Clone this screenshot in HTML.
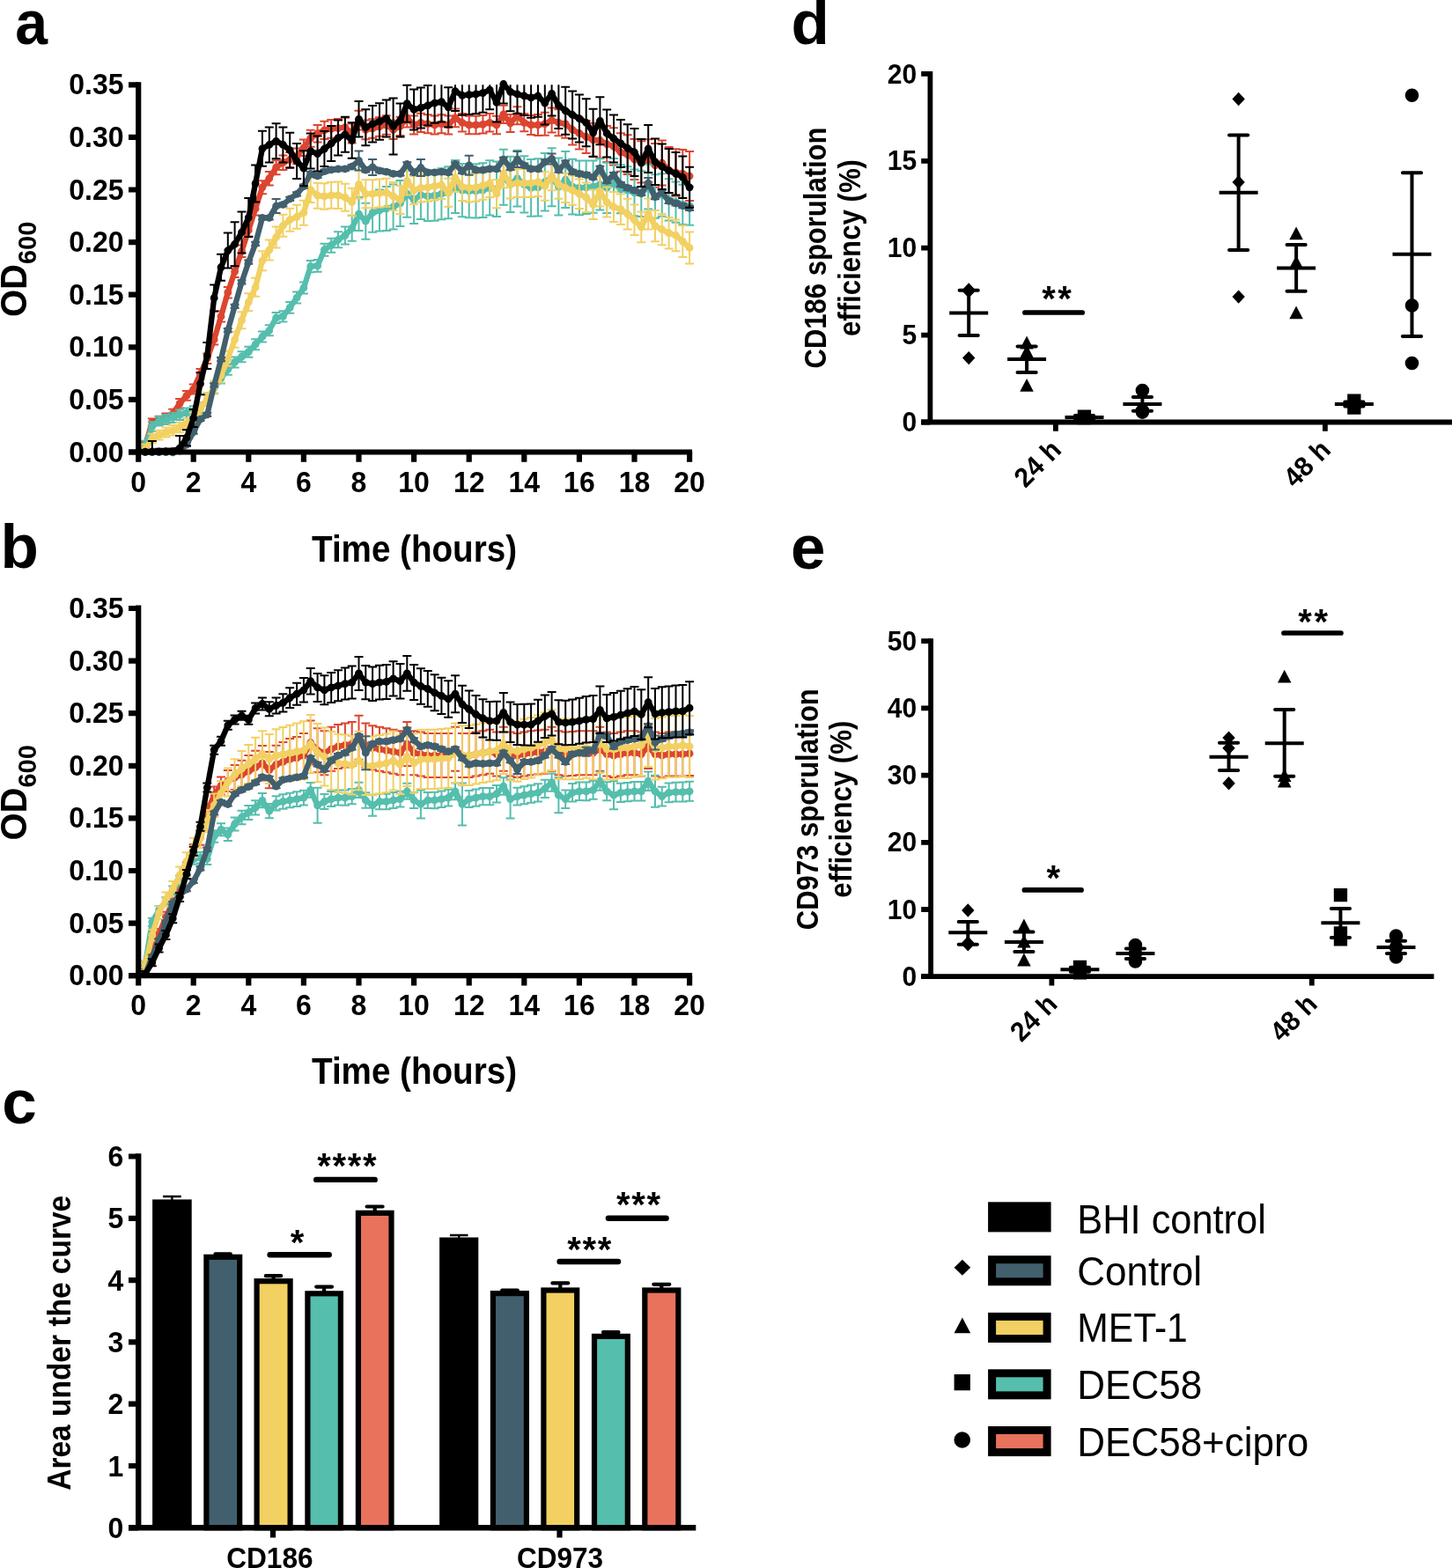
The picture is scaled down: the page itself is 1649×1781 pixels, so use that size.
<!DOCTYPE html><html><head><meta charset="utf-8"><title>Figure</title><style>html,body{margin:0;padding:0;background:#fff;}svg{display:block;}text{font-family:'Liberation Sans', Arial, Helvetica, sans-serif;}</style></head><body>
<svg width="1649" height="1781" viewBox="0 0 1649 1781">
<rect width="1649" height="1781" fill="#fff"/>
<text x="17.3" y="49.8" font-size="71" font-weight="bold" textLength="36.8" lengthAdjust="spacingAndGlyphs">a</text>
<text x="0.5" y="645.3" font-size="71" font-weight="bold">b</text>
<text x="2.3" y="1275.8" font-size="71" font-weight="bold">c</text>
<text x="898.5" y="50" font-size="71" font-weight="bold">d</text>
<text x="898" y="645.5" font-size="71" font-weight="bold">e</text>
<path d="M164.9 502.1V509.1M159.9 502.1h10M159.9 509.1h10M172.8 475.6V483.6M167.8 475.6h10M167.8 483.6h10M180.6 472.7V481.7M175.6 472.7h10M175.6 481.7h10M188.4 469.5V479.5M183.4 469.5h10M183.4 479.5h10M196.2 464.7V474.9M191.2 464.7h10M191.2 474.9h10M204.1 453.1V463.6M199.1 453.1h10M199.1 463.6h10M211.9 444.1V454.8M206.9 444.1h10M206.9 454.8h10M219.7 436.6V447.6M214.7 436.6h10M214.7 447.6h10M227.5 418.9V430.2M222.5 418.9h10M222.5 430.2h10M235.3 401.5V413M230.3 401.5h10M230.3 413h10M243.2 379.9V391.6M238.2 379.9h10M238.2 391.6h10M251 353.4V365.4M246 353.4h10M246 365.4h10M258.8 326V338.5M253.8 326h10M253.8 338.5h10M266.6 302V315M261.6 302h10M261.6 315h10M274.5 278.5V292M269.5 278.5h10M269.5 292h10M282.3 254.4V268.4M277.3 254.4h10M277.3 268.4h10M290.1 229.9V244.4M285.1 229.9h10M285.1 244.4h10M297.9 205.3V220.3M292.9 205.3h10M292.9 220.3h10M305.8 194.9V210.4M300.8 194.9h10M300.8 210.4h10M313.6 182.2V198.2M308.6 182.2h10M308.6 198.2h10M321.4 176.4V193M316.4 176.4h10M316.4 193h10M329.2 172.9V190.1M324.2 172.9h10M324.2 190.1h10M337.1 168.5V186.3M332.1 168.5h10M332.1 186.3h10M344.9 158.6V177M339.9 158.6h10M339.9 177h10M352.7 147.7V166.7M347.7 147.7h10M347.7 166.7h10M360.6 141.9V161.5M355.6 141.9h10M355.6 161.5h10M368.4 137.8V158M363.4 137.8h10M363.4 158h10M376.2 136V156.8M371.2 136h10M371.2 156.8h10M384 134.9V156.3M379 134.9h10M379 156.3h10M391.9 133.7V155.7M386.9 133.7h10M386.9 155.7h10M399.7 140.4V162.4M394.7 140.4h10M394.7 162.4h10M407.5 125.7V147.5M402.5 125.7h10M402.5 147.5h10M415.3 136.5V158.3M410.3 136.5h10M410.3 158.3h10M423.1 135.2V156.8M418.1 135.2h10M418.1 156.8h10M431 133.2V154.8M426 133.2h10M426 154.8h10M438.8 131.2V152.8M433.8 131.2h10M433.8 152.8h10M446.6 136.7V158.1M441.6 136.7h10M441.6 158.1h10M454.5 132.7V154.1M449.5 132.7h10M449.5 154.1h10M462.3 123.2V144.6M457.3 123.2h10M457.3 144.6h10M470.1 131.4V152.6M465.1 131.4h10M465.1 152.6h10M477.9 128.7V149.9M472.9 128.7h10M472.9 149.9h10M485.8 130.2V151.2M480.8 130.2h10M480.8 151.2h10M493.6 131.5V152.5M488.6 131.5h10M488.6 152.5h10M501.4 130.2V151.2M496.4 130.2h10M496.4 151.2h10M509.2 131.6V152.4M504.2 131.6h10M504.2 152.4h10M517 123.5V144.3M512 123.5h10M512 144.3h10M524.9 129V149.6M519.9 129h10M519.9 149.6h10M532.7 131.7V152.3M527.7 131.7h10M527.7 152.3h10M540.5 131.7V152.3M535.5 131.7h10M535.5 152.3h10M548.4 131.1V151.5M543.4 131.1h10M543.4 151.5h10M556.2 129.1V149.5M551.2 129.1h10M551.2 149.5h10M564 131.8V152.2M559 131.8h10M559 152.2h10M571.8 119.8V140M566.8 119.8h10M566.8 140h10M579.6 129.9V150.1M574.6 129.9h10M574.6 150.1h10M587.5 121.2V141.2M582.5 121.2h10M582.5 141.2h10M595.3 129.3V149.3M590.3 129.3h10M590.3 149.3h10M603.1 131V153M598.1 131h10M598.1 153h10M611 130V154M606 130h10M606 154h10M618.8 127.7V153.7M613.8 127.7h10M613.8 153.7h10M626.6 122.6V150.6M621.6 122.6h10M621.6 150.6h10M634.4 124.3V154.3M629.4 124.3h10M629.4 154.3h10M642.2 124.7V156.7M637.2 124.7h10M637.2 156.7h10M650.1 130.4V164.4M645.1 130.4h10M645.1 164.4h10M657.9 133.4V169.4M652.9 133.4h10M652.9 169.4h10M665.7 136.9V174.1M660.7 136.9h10M660.7 174.1h10M673.6 139.7V178.2M668.6 139.7h10M668.6 178.2h10M681.4 139.6V179.4M676.4 139.6h10M676.4 179.4h10M689.2 143.1V184.1M684.2 143.1h10M684.2 184.1h10M697 145.2V187.4M692 145.2h10M692 187.4h10M704.9 151.2V194.8M699.9 151.2h10M699.9 194.8h10M712.7 153.3V198.1M707.7 153.3h10M707.7 198.1h10M720.5 158.1V204.1M715.5 158.1h10M715.5 204.1h10M728.3 160.2V207.4M723.3 160.2h10M723.3 207.4h10M736.2 158.2V206.7M731.2 158.2h10M731.2 206.7h10M744 162.9V212.7M739 162.9h10M739 212.7h10M751.8 159.6V210.6M746.8 159.6h10M746.8 210.6h10M759.6 167.1V219.3M754.6 167.1h10M754.6 219.3h10M767.5 169.2V222.7M762.5 169.2h10M762.5 222.7h10M775.3 169.9V224.7M770.3 169.9h10M770.3 224.7h10M783.1 172V228M778.1 172h10M778.1 228h10" stroke="#dc4530" stroke-width="2.0" fill="none"/>
<polyline points="164.9,505.6 172.8,479.6 180.6,477.2 188.4,474.5 196.2,469.8 204.1,458.3 211.9,449.4 219.7,442.1 227.5,424.6 235.3,407.2 243.2,385.7 251,359.4 258.8,332.2 266.6,308.5 274.5,285.3 282.3,261.4 290.1,237.1 297.9,212.8 305.8,202.7 313.6,190.2 321.4,184.7 329.2,181.5 337.1,177.4 344.9,167.8 352.7,157.2 360.6,151.7 368.4,147.9 376.2,146.4 384,145.6 391.9,144.7 399.7,151.4 407.5,136.6 415.3,147.4 423.1,146 431,144 438.8,142 446.6,147.4 454.5,143.4 462.3,133.9 470.1,142 477.9,139.3 485.8,140.7 493.6,142 501.4,140.7 509.2,142 517,133.9 524.9,139.3 532.7,142 540.5,142 548.4,141.3 556.2,139.3 564,142 571.8,129.9 579.6,140 587.5,131.2 595.3,139.3 603.1,142 611,142 618.8,140.7 626.6,136.6 634.4,139.3 642.2,140.7 650.1,147.4 657.9,151.4 665.7,155.5 673.6,158.9 681.4,159.5 689.2,163.6 697,166.3 704.9,173 712.7,175.7 720.5,181.1 728.3,183.8 736.2,182.4 744,187.8 751.8,185.1 759.6,193.2 767.5,195.9 775.3,197.3 783.1,200" stroke="#dc4530" stroke-width="6.3" fill="none" stroke-linejoin="round"/>
<path d="M164.9 505.6h0M172.8 479.6h0M180.6 477.2h0M188.4 474.5h0M196.2 469.8h0M204.1 458.3h0M211.9 449.4h0M219.7 442.1h0M227.5 424.6h0M235.3 407.2h0M243.2 385.7h0M251 359.4h0M258.8 332.2h0M266.6 308.5h0M274.5 285.3h0M282.3 261.4h0M290.1 237.1h0M297.9 212.8h0M305.8 202.7h0M313.6 190.2h0M321.4 184.7h0M329.2 181.5h0M337.1 177.4h0M344.9 167.8h0M352.7 157.2h0M360.6 151.7h0M368.4 147.9h0M376.2 146.4h0M384 145.6h0M391.9 144.7h0M399.7 151.4h0M407.5 136.6h0M415.3 147.4h0M423.1 146h0M431 144h0M438.8 142h0M446.6 147.4h0M454.5 143.4h0M462.3 133.9h0M470.1 142h0M477.9 139.3h0M485.8 140.7h0M493.6 142h0M501.4 140.7h0M509.2 142h0M517 133.9h0M524.9 139.3h0M532.7 142h0M540.5 142h0M548.4 141.3h0M556.2 139.3h0M564 142h0M571.8 129.9h0M579.6 140h0M587.5 131.2h0M595.3 139.3h0M603.1 142h0M611 142h0M618.8 140.7h0M626.6 136.6h0M634.4 139.3h0M642.2 140.7h0M650.1 147.4h0M657.9 151.4h0M665.7 155.5h0M673.6 158.9h0M681.4 159.5h0M689.2 163.6h0M697 166.3h0M704.9 173h0M712.7 175.7h0M720.5 181.1h0M728.3 183.8h0M736.2 182.4h0M744 187.8h0M751.8 185.1h0M759.6 193.2h0M767.5 195.9h0M775.3 197.3h0M783.1 200h0" stroke="#dc4530" stroke-width="8.8" stroke-linecap="round" fill="none"/>
<path d="M164.9 500.7V510.9M159.9 500.7h10M159.9 510.9h10M172.8 479.2V489.7M167.8 479.2h10M167.8 489.7h10M180.6 472.9V483.6M175.6 472.9h10M175.6 483.6h10M188.4 471V482M183.4 471h10M183.4 482h10M196.2 468.7V479.9M191.2 468.7h10M191.2 479.9h10M204.1 465.4V476.9M199.1 465.4h10M199.1 476.9h10M211.9 463.4V475.1M206.9 463.4h10M206.9 475.1h10M219.7 461.3V473.3M214.7 461.3h10M214.7 473.3h10M227.5 457.3V469.3M222.5 457.3h10M222.5 469.3h10M235.3 448.4V460.4M230.3 448.4h10M230.3 460.4h10M243.2 434.8V446.8M238.2 434.8h10M238.2 446.8h10M251 423.6V435.6M246 423.6h10M246 435.6h10M258.8 413.7V425.7M253.8 413.7h10M253.8 425.7h10M266.6 405.4V417.4M261.6 405.4h10M261.6 417.4h10M274.5 399.2V411.2M269.5 399.2h10M269.5 411.2h10M282.3 393.7V405.7M277.3 393.7h10M277.3 405.7h10M290.1 385.2V397.2M285.1 385.2h10M285.1 397.2h10M297.9 376.5V388.5M292.9 376.5h10M292.9 388.5h10M305.8 369.3V381.3M300.8 369.3h10M300.8 381.3h10M313.6 355V367M308.6 355h10M308.6 367h10M321.4 353.3V365.6M316.4 353.3h10M316.4 365.6h10M329.2 343.1V355.7M324.2 343.1h10M324.2 355.7h10M337.1 331.6V344.5M332.1 331.6h10M332.1 344.5h10M344.9 320.5V333.6M339.9 320.5h10M339.9 333.6h10M352.7 295.9V309.3M347.7 295.9h10M347.7 309.3h10M360.6 295.1V308.8M355.6 295.1h10M355.6 308.8h10M368.4 276.7V290.7M363.4 276.7h10M363.4 290.7h10M376.2 270.7V286.7M371.2 270.7h10M371.2 286.7h10M384 263.3V281.3M379 263.3h10M379 281.3h10M391.9 257.4V277.4M386.9 257.4h10M386.9 277.4h10M399.7 244.8V273.8M394.7 244.8h10M394.7 273.8h10M407.5 224.1V262.1M402.5 224.1h10M402.5 262.1h10M415.3 230.7V271.7M410.3 230.7h10M410.3 271.7h10M423.1 219.7V263.7M418.1 219.7h10M418.1 263.7h10M431 215.5V262.5M426 215.5h10M426 262.5h10M438.8 212V262M433.8 212h10M433.8 262h10M446.6 209.5V260.5M441.6 209.5h10M441.6 260.5h10M454.5 205V257M449.5 205h10M449.5 257h10M462.3 193.7V246.7M457.3 193.7h10M457.3 246.7h10M470.1 199.9V253.9M465.1 199.9h10M465.1 253.9h10M477.9 194V249M472.9 194h10M472.9 249h10M485.8 194.9V250.9M480.8 194.9h10M480.8 250.9h10M493.6 193.7V250.7M488.6 193.7h10M488.6 250.7h10M501.4 191.2V249.2M496.4 191.2h10M496.4 249.2h10M509.2 189.3V248.3M504.2 189.3h10M504.2 248.3h10M517 182.1V242.1M512 182.1h10M512 242.1h10M524.9 185.9V246.3M519.9 185.9h10M519.9 246.3h10M532.7 186.4V247.2M527.7 186.4h10M527.7 247.2h10M540.5 186.2V247.4M535.5 186.2h10M535.5 247.4h10M548.4 185.2V247M543.4 185.2h10M543.4 247h10M556.2 182.3V244.5M551.2 182.3h10M551.2 244.5h10M564 183.5V246.1M559 183.5h10M559 246.1h10M571.8 169.8V232.8M566.8 169.8h10M566.8 232.8h10M579.6 177.7V241.1M574.6 177.7h10M574.6 241.1h10M587.5 170.8V234.6M582.5 170.8h10M582.5 234.6h10M595.3 177.3V241.5M590.3 177.3h10M590.3 241.5h10M603.1 181V245.8M598.1 181h10M598.1 245.8h10M611 180.2V245.4M606 180.2h10M606 245.4h10M618.8 173.9V239.5M613.8 173.9h10M613.8 239.5h10M626.6 168.3V234.3M621.6 168.3h10M621.6 234.3h10M634.4 179.6V244.6M629.4 179.6h10M629.4 244.6h10M642.2 172.1V235.9M637.2 172.1h10M637.2 235.9h10M650.1 180.8V243.4M645.1 180.8h10M645.1 243.4h10M657.9 182.6V244.2M652.9 182.6h10M652.9 244.2h10M665.7 182.6V243.1M660.7 182.6h10M660.7 243.1h10M673.6 182.4V241.8M668.6 182.4h10M668.6 241.8h10M681.4 180.2V238.6M676.4 180.2h10M676.4 238.6h10M689.2 184.8V242M684.2 184.8h10M684.2 242h10M697 179.9V236.1M692 179.9h10M692 236.1h10M704.9 187.3V242.3M699.9 187.3h10M699.9 242.3h10M712.7 189.2V243M707.7 189.2h10M707.7 243h10M720.5 192.4V245.2M715.5 192.4h10M715.5 245.2h10M728.3 194.3V246M723.3 194.3h10M723.3 246h10M736.2 186.8V237.4M731.2 186.8h10M731.2 237.4h10M744 198.2V247.7M739 198.2h10M739 247.7h10M751.8 197.3V245.7M746.8 197.3h10M746.8 245.7h10M759.6 203.2V250.6M754.6 203.2h10M754.6 250.6h10M767.5 206.5V252.7M762.5 206.5h10M762.5 252.7h10M775.3 209.8V254.9M770.3 209.8h10M770.3 254.9h10M783.1 211.7V255.7M778.1 211.7h10M778.1 255.7h10" stroke="#55bead" stroke-width="2.0" fill="none"/>
<polyline points="164.9,505.8 172.8,484.4 180.6,478.3 188.4,476.5 196.2,474.3 204.1,471.1 211.9,469.2 219.7,467.3 227.5,463.3 235.3,454.4 243.2,440.8 251,429.6 258.8,419.7 266.6,411.4 274.5,405.2 282.3,399.7 290.1,391.2 297.9,382.5 305.8,375.3 313.6,361 321.4,359.4 329.2,349.4 337.1,338.1 344.9,327 352.7,302.6 360.6,301.9 368.4,283.7 376.2,278.7 384,272.3 391.9,267.4 399.7,259.3 407.5,243.1 415.3,251.2 423.1,241.7 431,239 438.8,237 446.6,235 454.5,231 462.3,220.2 470.1,226.9 477.9,221.5 485.8,222.9 493.6,222.2 501.4,220.2 509.2,218.8 517,212.1 524.9,216.1 532.7,216.8 540.5,216.8 548.4,216.1 556.2,213.4 564,214.8 571.8,201.3 579.6,209.4 587.5,202.7 595.3,209.4 603.1,213.4 611,212.8 618.8,206.7 626.6,201.3 634.4,212.1 642.2,204 650.1,212.1 657.9,213.4 665.7,212.8 673.6,212.1 681.4,209.4 689.2,213.4 697,208 704.9,214.8 712.7,216.1 720.5,218.8 728.3,220.2 736.2,212.1 744,222.9 751.8,221.5 759.6,226.9 767.5,229.6 775.3,232.3 783.1,233.7" stroke="#55bead" stroke-width="6.3" fill="none" stroke-linejoin="round"/>
<path d="M164.9 505.8h0M172.8 484.4h0M180.6 478.3h0M188.4 476.5h0M196.2 474.3h0M204.1 471.1h0M211.9 469.2h0M219.7 467.3h0M227.5 463.3h0M235.3 454.4h0M243.2 440.8h0M251 429.6h0M258.8 419.7h0M266.6 411.4h0M274.5 405.2h0M282.3 399.7h0M290.1 391.2h0M297.9 382.5h0M305.8 375.3h0M313.6 361h0M321.4 359.4h0M329.2 349.4h0M337.1 338.1h0M344.9 327h0M352.7 302.6h0M360.6 301.9h0M368.4 283.7h0M376.2 278.7h0M384 272.3h0M391.9 267.4h0M399.7 259.3h0M407.5 243.1h0M415.3 251.2h0M423.1 241.7h0M431 239h0M438.8 237h0M446.6 235h0M454.5 231h0M462.3 220.2h0M470.1 226.9h0M477.9 221.5h0M485.8 222.9h0M493.6 222.2h0M501.4 220.2h0M509.2 218.8h0M517 212.1h0M524.9 216.1h0M532.7 216.8h0M540.5 216.8h0M548.4 216.1h0M556.2 213.4h0M564 214.8h0M571.8 201.3h0M579.6 209.4h0M587.5 202.7h0M595.3 209.4h0M603.1 213.4h0M611 212.8h0M618.8 206.7h0M626.6 201.3h0M634.4 212.1h0M642.2 204h0M650.1 212.1h0M657.9 213.4h0M665.7 212.8h0M673.6 212.1h0M681.4 209.4h0M689.2 213.4h0M697 208h0M704.9 214.8h0M712.7 216.1h0M720.5 218.8h0M728.3 220.2h0M736.2 212.1h0M744 222.9h0M751.8 221.5h0M759.6 226.9h0M767.5 229.6h0M775.3 232.3h0M783.1 233.7h0" stroke="#55bead" stroke-width="8.8" stroke-linecap="round" fill="none"/>
<path d="M164.9 504.7V513.5M159.9 504.7h10M172.8 492.7V503.2M167.8 492.7h10M167.8 503.2h10M180.6 488.8V499.5M175.6 488.8h10M175.6 499.5h10M188.4 485.6V496.6M183.4 485.6h10M183.4 496.6h10M196.2 483.1V494.4M191.2 483.1h10M191.2 494.4h10M204.1 479.7V491.2M199.1 479.7h10M199.1 491.2h10M211.9 475.1V486.9M206.9 475.1h10M206.9 486.9h10M219.7 468.8V480.8M214.7 468.8h10M214.7 480.8h10M227.5 458V471M222.5 458h10M222.5 471h10M235.3 445.9V459.9M230.3 445.9h10M230.3 459.9h10M243.2 432.5V447.5M238.2 432.5h10M238.2 447.5h10M251 418.4V434.4M246 418.4h10M246 434.4h10M258.8 398.8V415.8M253.8 398.8h10M253.8 415.8h10M266.6 376.8V394.8M261.6 376.8h10M261.6 394.8h10M274.5 354.3V373.3M269.5 354.3h10M269.5 373.3h10M282.3 333.2V353.2M277.3 333.2h10M277.3 353.2h10M290.1 315.8V336.8M285.1 315.8h10M285.1 336.8h10M297.9 285.2V307.2M292.9 285.2h10M292.9 307.2h10M305.8 272.5V295.5M300.8 272.5h10M300.8 295.5h10M313.6 257.5V281.5M308.6 257.5h10M308.6 281.5h10M321.4 243.8V268.8M316.4 243.8h10M316.4 268.8h10M329.2 236.7V262.7M324.2 236.7h10M324.2 262.7h10M337.1 232.8V259.8M332.1 232.8h10M332.1 259.8h10M344.9 227.7V255.7M339.9 227.7h10M339.9 255.7h10M352.7 201.4V229.9M347.7 201.4h10M347.7 229.9h10M360.6 207.7V236.7M355.6 207.7h10M355.6 236.7h10M368.4 208.2V237.7M363.4 208.2h10M363.4 237.7h10M376.2 206.8V236.8M371.2 206.8h10M371.2 236.8h10M384 206.5V237M379 206.5h10M379 237h10M391.9 208.7V239.7M386.9 208.7h10M386.9 239.7h10M399.7 213.8V245.3M394.7 213.8h10M394.7 245.3h10M407.5 193.4V225.4M402.5 193.4h10M402.5 225.4h10M415.3 204.2V236.2M410.3 204.2h10M410.3 236.2h10M423.1 204.2V236.2M418.1 204.2h10M418.1 236.2h10M431 203.5V235.5M426 203.5h10M426 235.5h10M438.8 202.8V234.8M433.8 202.8h10M433.8 234.8h10M446.6 206.9V238.9M441.6 206.9h10M441.6 238.9h10M454.5 210.9V242.9M449.5 210.9h10M449.5 242.9h10M462.3 189.4V221.4M457.3 189.4h10M457.3 221.4h10M470.1 200.1V232.1M465.1 200.1h10M465.1 232.1h10M477.9 197.4V229.4M472.9 197.4h10M472.9 229.4h10M485.8 196.8V228.8M480.8 196.8h10M480.8 228.8h10M493.6 195.4V227.4M488.6 195.4h10M488.6 227.4h10M501.4 194.1V226.1M496.4 194.1h10M496.4 226.1h10M509.2 202.8V234.8M504.2 202.8h10M504.2 234.8h10M517 186V218M512 186h10M512 218h10M524.9 196.1V228.1M519.9 196.1h10M519.9 228.1h10M532.7 197.4V229.4M527.7 197.4h10M527.7 229.4h10M540.5 196.8V228.8M535.5 196.8h10M535.5 228.8h10M548.4 194.7V226.7M543.4 194.7h10M543.4 226.7h10M556.2 192V224M551.2 192h10M551.2 224h10M564 204.2V236.2M559 204.2h10M559 236.2h10M571.8 181.3V213.3M566.8 181.3h10M566.8 213.3h10M579.6 193.4V225.4M574.6 193.4h10M574.6 225.4h10M587.5 192V224M582.5 192h10M582.5 224h10M595.3 192V224M590.3 192h10M590.3 224h10M603.1 191.9V224.1M598.1 191.9h10M598.1 224.1h10M611 190.5V222.9M606 190.5h10M606 222.9h10M618.8 195.2V227.7M613.8 195.2h10M613.8 227.7h10M626.6 183.7V216.3M621.6 183.7h10M621.6 216.3h10M634.4 193V225.8M629.4 193h10M629.4 225.8h10M642.2 196.9V229.9M637.2 196.9h10M637.2 229.9h10M650.1 199.5V232.7M645.1 199.5h10M645.1 232.7h10M657.9 203.5V236.9M652.9 203.5h10M652.9 236.9h10M665.7 207.4V240.9M660.7 207.4h10M660.7 240.9h10M673.6 215.5V249.1M668.6 215.5h10M668.6 249.1h10M681.4 200.6V234.4M676.4 200.6h10M676.4 234.4h10M689.2 212.6V246.6M684.2 212.6h10M684.2 246.6h10M697 217.9V252.1M692 217.9h10M692 252.1h10M704.9 220.5V254.9M699.9 220.5h10M699.9 254.9h10M712.7 225.8V260.4M707.7 225.8h10M707.7 260.4h10M720.5 232.5V267.1M715.5 232.5h10M715.5 267.1h10M728.3 240.5V275.3M723.3 240.5h10M723.3 275.3h10M736.2 225.6V260.6M731.2 225.6h10M731.2 260.6h10M744 239V274.2M739 239h10M739 274.2h10M751.8 242.9V278.3M746.8 242.9h10M746.8 278.3h10M759.6 246.9V282.4M754.6 246.9h10M754.6 282.4h10M767.5 249.6V285.2M762.5 249.6h10M762.5 285.2h10M775.3 256.2V292M770.3 256.2h10M770.3 292h10M783.1 263.5V299.5M778.1 263.5h10M778.1 299.5h10" stroke="#f2d062" stroke-width="2.0" fill="none"/>
<polyline points="164.9,509.9 172.8,498 180.6,494.1 188.4,491.1 196.2,488.8 204.1,485.5 211.9,481 219.7,474.8 227.5,464.5 235.3,452.9 243.2,440 251,426.4 258.8,407.3 266.6,385.8 274.5,363.8 282.3,343.2 290.1,326.3 297.9,296.2 305.8,284 313.6,269.5 321.4,256.3 329.2,249.7 337.1,246.3 344.9,241.7 352.7,215.6 360.6,222.2 368.4,223 376.2,221.8 384,221.8 391.9,224.2 399.7,229.6 407.5,209.4 415.3,220.2 423.1,220.2 431,219.5 438.8,218.8 446.6,222.9 454.5,226.9 462.3,205.4 470.1,216.1 477.9,213.4 485.8,212.8 493.6,211.4 501.4,210.1 509.2,218.8 517,202 524.9,212.1 532.7,213.4 540.5,212.8 548.4,210.7 556.2,208 564,220.2 571.8,197.3 579.6,209.4 587.5,208 595.3,208 603.1,208 611,206.7 618.8,211.4 626.6,200 634.4,209.4 642.2,213.4 650.1,216.1 657.9,220.2 665.7,224.2 673.6,232.3 681.4,217.5 689.2,229.6 697,235 704.9,237.7 712.7,243.1 720.5,249.8 728.3,257.9 736.2,243.1 744,256.6 751.8,260.6 759.6,264.7 767.5,267.4 775.3,274.1 783.1,281.5" stroke="#f2d062" stroke-width="6.3" fill="none" stroke-linejoin="round"/>
<path d="M164.9 509.9h0M172.8 498h0M180.6 494.1h0M188.4 491.1h0M196.2 488.8h0M204.1 485.5h0M211.9 481h0M219.7 474.8h0M227.5 464.5h0M235.3 452.9h0M243.2 440h0M251 426.4h0M258.8 407.3h0M266.6 385.8h0M274.5 363.8h0M282.3 343.2h0M290.1 326.3h0M297.9 296.2h0M305.8 284h0M313.6 269.5h0M321.4 256.3h0M329.2 249.7h0M337.1 246.3h0M344.9 241.7h0M352.7 215.6h0M360.6 222.2h0M368.4 223h0M376.2 221.8h0M384 221.8h0M391.9 224.2h0M399.7 229.6h0M407.5 209.4h0M415.3 220.2h0M423.1 220.2h0M431 219.5h0M438.8 218.8h0M446.6 222.9h0M454.5 226.9h0M462.3 205.4h0M470.1 216.1h0M477.9 213.4h0M485.8 212.8h0M493.6 211.4h0M501.4 210.1h0M509.2 218.8h0M517 202h0M524.9 212.1h0M532.7 213.4h0M540.5 212.8h0M548.4 210.7h0M556.2 208h0M564 220.2h0M571.8 197.3h0M579.6 209.4h0M587.5 208h0M595.3 208h0M603.1 208h0M611 206.7h0M618.8 211.4h0M626.6 200h0M634.4 209.4h0M642.2 213.4h0M650.1 216.1h0M657.9 220.2h0M665.7 224.2h0M673.6 232.3h0M681.4 217.5h0M689.2 229.6h0M697 235h0M704.9 237.7h0M712.7 243.1h0M720.5 249.8h0M728.3 257.9h0M736.2 243.1h0M744 256.6h0M751.8 260.6h0M759.6 264.7h0M767.5 267.4h0M775.3 274.1h0M783.1 281.5h0" stroke="#f2d062" stroke-width="8.8" stroke-linecap="round" fill="none"/>
<path d="M164.9 511.6V513.5M159.9 511.6h10M172.8 511.6V513.5M167.8 511.6h10M180.6 511.7V513.5M175.6 511.7h10M188.4 511.7V513.5M183.4 511.7h10M196.2 511.8V513.5M191.2 511.8h10M204.1 510.2V513.5M199.1 510.2h10M211.9 503V507.1M206.9 503h10M206.9 507.1h10M219.7 488.6V492.7M214.7 488.6h10M214.7 492.7h10M227.5 474V478.1M222.5 474h10M222.5 478.1h10M235.3 468.8V473M230.3 468.8h10M230.3 473h10M243.2 435.4V439.6M238.2 435.4h10M238.2 439.6h10M251 406V410.2M246 406h10M246 410.2h10M258.8 373V377.2M253.8 373h10M253.8 377.2h10M266.6 345.7V349.9M261.6 345.7h10M261.6 349.9h10M274.5 318.3V322.5M269.5 318.3h10M269.5 322.5h10M282.3 295.5V299.8M277.3 295.5h10M277.3 299.8h10M290.1 274.7V278.9M285.1 274.7h10M285.1 278.9h10M297.9 245.3V249.6M292.9 245.3h10M292.9 249.6h10M305.8 245.2V249.5M300.8 245.2h10M300.8 249.5h10M313.6 226.1V242.1M308.6 226.1h10M308.6 242.1h10M321.4 230.3V234.6M316.4 230.3h10M316.4 234.6h10M329.2 223.7V228M324.2 223.7h10M324.2 228h10M337.1 218.2V222.5M332.1 218.2h10M332.1 222.5h10M344.9 209.5V213.8M339.9 209.5h10M339.9 213.8h10M352.7 195.1V199.5M347.7 195.1h10M347.7 199.5h10M360.6 197.6V202M355.6 197.6h10M355.6 202h10M368.4 192.4V196.8M363.4 192.4h10M363.4 196.8h10M376.2 190.6V195M371.2 190.6h10M371.2 195h10M384 189.8V194.2M379 189.8h10M379 194.2h10M391.9 189.7V194.1M386.9 189.7h10M386.9 194.1h10M399.7 187V191.4M394.7 187h10M394.7 191.4h10M407.5 171.4V193.4M402.5 171.4h10M402.5 193.4h10M415.3 191V195.4M410.3 191h10M410.3 195.4h10M423.1 180.9V198.9M418.1 180.9h10M418.1 198.9h10M431 191.6V196.2M426 191.6h10M426 196.2h10M438.8 192.9V197.5M433.8 192.9h10M433.8 197.5h10M446.6 195V199.6M441.6 195h10M441.6 199.6h10M454.5 195V199.6M449.5 195h10M449.5 199.6h10M462.3 184.2V188.8M457.3 184.2h10M457.3 188.8h10M470.1 193.6V198.2M465.1 193.6h10M465.1 198.2h10M477.9 181V200M472.9 181h10M472.9 200h10M485.8 193.6V198.2M480.8 193.6h10M480.8 198.2h10M493.6 193.6V198.2M488.6 193.6h10M488.6 198.2h10M501.4 192.9V197.5M496.4 192.9h10M496.4 197.5h10M509.2 193.6V198.2M504.2 193.6h10M504.2 198.2h10M517 184.2V188.8M512 184.2h10M512 188.8h10M524.9 192.2V197M519.9 192.2h10M519.9 197h10M532.7 176.8V198.8M527.7 176.8h10M527.7 198.8h10M540.5 190.8V195.6M535.5 190.8h10M535.5 195.6h10M548.4 190.8V195.6M543.4 190.8h10M543.4 195.6h10M556.2 189.5V194.3M551.2 189.5h10M551.2 194.3h10M564 189.5V194.3M559 189.5h10M559 194.3h10M571.8 178.7V183.5M566.8 178.7h10M566.8 183.5h10M579.6 188.1V192.9M574.6 188.1h10M574.6 192.9h10M587.5 172.1V190.1M582.5 172.1h10M582.5 190.1h10M595.3 185.4V190.2M590.3 185.4h10M590.3 190.2h10M603.1 189.5V194.3M598.1 189.5h10M598.1 194.3h10M611 189.5V194.3M606 189.5h10M606 194.3h10M618.8 181.4V186.2M613.8 181.4h10M613.8 186.2h10M626.6 174.4V186.4M621.6 174.4h10M621.6 186.4h10M634.4 190.7V195.7M629.4 190.7h10M629.4 195.7h10M642.2 182.6V187.6M637.2 182.6h10M637.2 187.6h10M650.1 192.7V197.7M645.1 192.7h10M645.1 197.7h10M657.9 194.8V199.8M652.9 194.8h10M652.9 199.8h10M665.7 196.1V201.1M660.7 196.1h10M660.7 201.1h10M673.6 198.8V203.8M668.6 198.8h10M668.6 203.8h10M681.4 188.7V193.7M676.4 188.7h10M676.4 193.7h10M689.2 202.9V207.9M684.2 202.9h10M684.2 207.9h10M697 196.1V201.1M692 196.1h10M692 201.1h10M704.9 206.9V211.9M699.9 206.9h10M699.9 211.9h10M712.7 210.9V215.9M707.7 210.9h10M707.7 215.9h10M720.5 213.6V218.6M715.5 213.6h10M715.5 218.6h10M728.3 217V222M723.3 217h10M723.3 222h10M736.2 202V214M731.2 202h10M731.2 214h10M744 221V226.2M739 221h10M739 226.2h10M751.8 216.2V221.4M746.8 216.2h10M746.8 221.4h10M759.6 225.7V230.9M754.6 225.7h10M754.6 230.9h10M767.5 228.4V233.6M762.5 228.4h10M762.5 233.6h10M775.3 231.1V236.3M770.3 231.1h10M770.3 236.3h10M783.1 233.8V239M778.1 233.8h10M778.1 239h10" stroke="#425f6e" stroke-width="2.0" fill="none"/>
<polyline points="164.9,513.6 172.8,513.6 180.6,513.7 188.4,513.7 196.2,513.8 204.1,512.2 211.9,505.1 219.7,490.7 227.5,476.1 235.3,470.9 243.2,437.5 251,408.1 258.8,375.1 266.6,347.8 274.5,320.4 282.3,297.7 290.1,276.8 297.9,247.4 305.8,247.3 313.6,234.1 321.4,232.4 329.2,225.9 337.1,220.3 344.9,211.6 352.7,197.3 360.6,199.8 368.4,194.6 376.2,192.8 384,192 391.9,191.9 399.7,189.2 407.5,182.4 415.3,193.2 423.1,189.9 431,193.9 438.8,195.2 446.6,197.3 454.5,197.3 462.3,186.5 470.1,195.9 477.9,190.5 485.8,195.9 493.6,195.9 501.4,195.2 509.2,195.9 517,186.5 524.9,194.6 532.7,187.8 540.5,193.2 548.4,193.2 556.2,191.9 564,191.9 571.8,181.1 579.6,190.5 587.5,181.1 595.3,187.8 603.1,191.9 611,191.9 618.8,183.8 626.6,180.4 634.4,193.2 642.2,185.1 650.1,195.2 657.9,197.3 665.7,198.6 673.6,201.3 681.4,191.2 689.2,205.4 697,198.6 704.9,209.4 712.7,213.4 720.5,216.1 728.3,219.5 736.2,208 744,223.6 751.8,218.8 759.6,228.3 767.5,231 775.3,233.7 783.1,236.4" stroke="#425f6e" stroke-width="6.3" fill="none" stroke-linejoin="round"/>
<path d="M164.9 513.6h0M172.8 513.6h0M180.6 513.7h0M188.4 513.7h0M196.2 513.8h0M204.1 512.2h0M211.9 505.1h0M219.7 490.7h0M227.5 476.1h0M235.3 470.9h0M243.2 437.5h0M251 408.1h0M258.8 375.1h0M266.6 347.8h0M274.5 320.4h0M282.3 297.7h0M290.1 276.8h0M297.9 247.4h0M305.8 247.3h0M313.6 234.1h0M321.4 232.4h0M329.2 225.9h0M337.1 220.3h0M344.9 211.6h0M352.7 197.3h0M360.6 199.8h0M368.4 194.6h0M376.2 192.8h0M384 192h0M391.9 191.9h0M399.7 189.2h0M407.5 182.4h0M415.3 193.2h0M423.1 189.9h0M431 193.9h0M438.8 195.2h0M446.6 197.3h0M454.5 197.3h0M462.3 186.5h0M470.1 195.9h0M477.9 190.5h0M485.8 195.9h0M493.6 195.9h0M501.4 195.2h0M509.2 195.9h0M517 186.5h0M524.9 194.6h0M532.7 187.8h0M540.5 193.2h0M548.4 193.2h0M556.2 191.9h0M564 191.9h0M571.8 181.1h0M579.6 190.5h0M587.5 181.1h0M595.3 187.8h0M603.1 191.9h0M611 191.9h0M618.8 183.8h0M626.6 180.4h0M634.4 193.2h0M642.2 185.1h0M650.1 195.2h0M657.9 197.3h0M665.7 198.6h0M673.6 201.3h0M681.4 191.2h0M689.2 205.4h0M697 198.6h0M704.9 209.4h0M712.7 213.4h0M720.5 216.1h0M728.3 219.5h0M736.2 208h0M744 223.6h0M751.8 218.8h0M759.6 228.3h0M767.5 231h0M775.3 233.7h0M783.1 236.4h0" stroke="#425f6e" stroke-width="8.8" stroke-linecap="round" fill="none"/>
<path d="M164.9 511.1V513.5M159.9 511.1h10M172.8 501V513.5M167.8 501h10M180.6 509.8V513.5M175.6 509.8h10M188.4 509.7V513.5M183.4 509.7h10M196.2 509.6V513.5M191.2 509.6h10M204.1 495V513.5M199.1 495h10M211.9 488.2V506.2M206.9 488.2h10M206.9 506.2h10M219.7 465V485M214.7 465h10M214.7 485h10M227.5 423.3V448.3M222.5 423.3h10M222.5 448.3h10M235.3 389V419M230.3 389h10M230.3 419h10M243.2 323.4V353.4M238.2 323.4h10M238.2 353.4h10M251 288.7V318.7M246 288.7h10M246 318.7h10M258.8 264.6V304.6M253.8 264.6h10M253.8 304.6h10M266.6 252.3V302.3M261.6 252.3h10M261.6 302.3h10M274.5 240.4V287.4M269.5 240.4h10M269.5 287.4h10M282.3 225.1V269.1M277.3 225.1h10M277.3 269.1h10M290.1 187.4V229.4M285.1 187.4h10M285.1 229.4h10M297.9 148.8V188.8M292.9 148.8h10M292.9 188.8h10M305.8 144.5V184.5M300.8 144.5h10M300.8 184.5h10M313.6 140.3V180.3M308.6 140.3h10M308.6 180.3h10M321.4 144.4V184.4M316.4 144.4h10M316.4 184.4h10M329.2 150.7V190.7M324.2 150.7h10M324.2 190.7h10M337.1 163V203M332.1 163h10M332.1 203h10M344.9 171.2V211.2M339.9 171.2h10M339.9 211.2h10M352.7 151.6V191.6M347.7 151.6h10M347.7 191.6h10M360.6 154.6V194.6M355.6 154.6h10M355.6 194.6h10M368.4 149.1V189.1M363.4 149.1h10M363.4 189.1h10M376.2 142.9V182.9M371.2 142.9h10M371.2 182.9h10M384 136.6V176.6M379 136.6h10M379 176.6h10M391.9 132.8V172.8M386.9 132.8h10M386.9 172.8h10M399.7 139.3V179.7M394.7 139.3h10M394.7 179.7h10M407.5 115V155.6M402.5 115h10M402.5 155.6h10M415.3 124.2V165.2M410.3 124.2h10M410.3 165.2h10M423.1 120V161.4M418.1 120h10M418.1 161.4h10M431 117.2V158.8M426 117.2h10M426 158.8h10M438.8 113.6V155.6M433.8 113.6h10M433.8 155.6h10M446.6 111.4V175.4M441.6 111.4h10M441.6 175.4h10M454.5 117.6V155.6M449.5 117.6h10M449.5 155.6h10M462.3 96.7V138.7M457.3 96.7h10M457.3 138.7h10M470.1 101.5V147.5M465.1 101.5h10M465.1 147.5h10M477.9 99.6V145.4M472.9 99.6h10M472.9 145.4h10M485.8 97V142.6M480.8 97h10M480.8 142.6h10M493.6 96.2V139.8M488.6 139.8h10M501.4 96.2V138.4M496.4 138.4h10M509.2 99.2V144.4M504.2 99.2h10M504.2 144.4h10M517 96.2V126.1M512 126.1h10M524.9 96.2V130.7M519.9 130.7h10M532.7 96.2V129.9M527.7 129.9h10M540.5 96.2V129.2M535.5 129.2h10M548.4 96.2V127.8M543.4 127.8h10M556.2 96.2V124.3M551.2 124.3h10M564 96.2V138.4M559 138.4h10M571.8 96.2V117.5M566.8 117.5h10M579.6 96.2V126.3M574.6 126.3h10M587.5 96.2V129M582.5 129h10M595.3 96.2V131M590.3 131h10M603.1 96.2V133.8M598.1 133.8h10M611 96.2V132.7M606 132.7h10M618.8 96.2V141.6M613.8 141.6h10M626.6 96.2V131.6M621.6 131.6h10M634.4 96.2V146M629.4 146h10M642.2 98.8V152.8M637.2 98.8h10M637.2 152.8h10M650.1 103.5V157.5M645.1 103.5h10M645.1 157.5h10M657.9 107.6V161.6M652.9 107.6h10M652.9 161.6h10M665.7 112.3V166.3M660.7 112.3h10M660.7 166.3h10M673.6 123.8V177.8M668.6 123.8h10M668.6 177.8h10M681.4 110.3V164.3M676.4 110.3h10M676.4 164.3h10M689.2 124.4V178.4M684.2 124.4h10M684.2 178.4h10M697 130.5V184.5M692 130.5h10M692 184.5h10M704.9 135.9V189.9M699.9 135.9h10M699.9 189.9h10M712.7 141.3V195.3M707.7 141.3h10M707.7 195.3h10M720.5 146V200M715.5 146h10M715.5 200h10M728.3 158.1V212.1M723.3 158.1h10M723.3 212.1h10M736.2 142V196M731.2 142h10M731.2 196h10M744 157.5V210.1M739 157.5h10M739 210.1h10M751.8 163.5V214.9M746.8 163.5h10M746.8 214.9h10M759.6 168.9V218.9M754.6 168.9h10M754.6 218.9h10M767.5 173V221.6M762.5 173h10M762.5 221.6h10M775.3 177.6V225M770.3 177.6h10M770.3 225h10M783.1 189.8V235.8M778.1 189.8h10M778.1 235.8h10" stroke="#000000" stroke-width="2.0" fill="none"/>
<polyline points="164.9,513.1 172.8,513 180.6,512.8 188.4,512.7 196.2,512.6 204.1,509 211.9,497.2 219.7,475 227.5,435.8 235.3,404 243.2,338.4 251,303.7 258.8,284.6 266.6,277.3 274.5,263.9 282.3,247.1 290.1,208.4 297.9,168.8 305.8,164.5 313.6,160.3 321.4,164.4 329.2,170.7 337.1,183 344.9,191.2 352.7,171.6 360.6,174.6 368.4,169.1 376.2,162.9 384,156.6 391.9,152.8 399.7,159.5 407.5,135.3 415.3,144.7 423.1,140.7 431,138 438.8,134.6 446.6,143.4 454.5,136.6 462.3,117.7 470.1,124.5 477.9,122.5 485.8,119.8 493.6,117.1 501.4,115.7 509.2,121.8 517,103.6 524.9,108.3 532.7,107.6 540.5,107 548.4,105.6 556.2,102.2 564,116.4 571.8,95.5 579.6,104.3 587.5,107 595.3,109 603.1,111 611,109 618.8,117.1 626.6,106.3 634.4,119.8 642.2,125.8 650.1,130.5 657.9,134.6 665.7,139.3 673.6,150.8 681.4,137.3 689.2,151.4 697,157.5 704.9,162.9 712.7,168.3 720.5,173 728.3,185.1 736.2,169 744,183.8 751.8,189.2 759.6,193.9 767.5,197.3 775.3,201.3 783.1,212.8" stroke="#000000" stroke-width="6.3" fill="none" stroke-linejoin="round"/>
<path d="M164.9 513.1h0M172.8 513h0M180.6 512.8h0M188.4 512.7h0M196.2 512.6h0M204.1 509h0M211.9 497.2h0M219.7 475h0M227.5 435.8h0M235.3 404h0M243.2 338.4h0M251 303.7h0M258.8 284.6h0M266.6 277.3h0M274.5 263.9h0M282.3 247.1h0M290.1 208.4h0M297.9 168.8h0M305.8 164.5h0M313.6 160.3h0M321.4 164.4h0M329.2 170.7h0M337.1 183h0M344.9 191.2h0M352.7 171.6h0M360.6 174.6h0M368.4 169.1h0M376.2 162.9h0M384 156.6h0M391.9 152.8h0M399.7 159.5h0M407.5 135.3h0M415.3 144.7h0M423.1 140.7h0M431 138h0M438.8 134.6h0M446.6 143.4h0M454.5 136.6h0M462.3 117.7h0M470.1 124.5h0M477.9 122.5h0M485.8 119.8h0M493.6 117.1h0M501.4 115.7h0M509.2 121.8h0M517 103.6h0M524.9 108.3h0M532.7 107.6h0M540.5 107h0M548.4 105.6h0M556.2 102.2h0M564 116.4h0M571.8 95.5h0M579.6 104.3h0M587.5 107h0M595.3 109h0M603.1 111h0M611 109h0M618.8 117.1h0M626.6 106.3h0M634.4 119.8h0M642.2 125.8h0M650.1 130.5h0M657.9 134.6h0M665.7 139.3h0M673.6 150.8h0M681.4 137.3h0M689.2 151.4h0M697 157.5h0M704.9 162.9h0M712.7 168.3h0M720.5 173h0M728.3 185.1h0M736.2 169h0M744 183.8h0M751.8 189.2h0M759.6 193.9h0M767.5 197.3h0M775.3 201.3h0M783.1 212.8h0" stroke="#000000" stroke-width="8.8" stroke-linecap="round" fill="none"/>
<path d="M157.2 93.2 V524.7 M146 513.5 H786.1" stroke="#000" stroke-width="6.2" fill="none"/>
<path d="M146 513.5H157M146 453.9H157M146 394.3H157M146 334.7H157M146 275.1H157M146 215.5H157M146 155.9H157M146 96.3H157M219.7 513.5V524.7M282.3 513.5V524.7M344.9 513.5V524.7M407.5 513.5V524.7M470.1 513.5V524.7M532.7 513.5V524.7M595.3 513.5V524.7M657.9 513.5V524.7M720.5 513.5V524.7M783.1 513.5V524.7" stroke="#000" stroke-width="6.2" fill="none"/>
<text transform="translate(140.5 524.5) scale(1 1.04)" font-size="32" font-weight="bold" text-anchor="end">0.00</text>
<text transform="translate(140.5 464.9) scale(1 1.04)" font-size="32" font-weight="bold" text-anchor="end">0.05</text>
<text transform="translate(140.5 405.3) scale(1 1.04)" font-size="32" font-weight="bold" text-anchor="end">0.10</text>
<text transform="translate(140.5 345.7) scale(1 1.04)" font-size="32" font-weight="bold" text-anchor="end">0.15</text>
<text transform="translate(140.5 286.1) scale(1 1.04)" font-size="32" font-weight="bold" text-anchor="end">0.20</text>
<text transform="translate(140.5 226.5) scale(1 1.04)" font-size="32" font-weight="bold" text-anchor="end">0.25</text>
<text transform="translate(140.5 166.9) scale(1 1.04)" font-size="32" font-weight="bold" text-anchor="end">0.30</text>
<text transform="translate(140.5 107.3) scale(1 1.04)" font-size="32" font-weight="bold" text-anchor="end">0.35</text>
<text transform="translate(157.1 558.5) scale(1 1.04)" font-size="32" font-weight="bold" text-anchor="middle">0</text>
<text transform="translate(219.7 558.5) scale(1 1.04)" font-size="32" font-weight="bold" text-anchor="middle">2</text>
<text transform="translate(282.3 558.5) scale(1 1.04)" font-size="32" font-weight="bold" text-anchor="middle">4</text>
<text transform="translate(344.9 558.5) scale(1 1.04)" font-size="32" font-weight="bold" text-anchor="middle">6</text>
<text transform="translate(407.5 558.5) scale(1 1.04)" font-size="32" font-weight="bold" text-anchor="middle">8</text>
<text transform="translate(470.1 558.5) scale(1 1.04)" font-size="32" font-weight="bold" text-anchor="middle">10</text>
<text transform="translate(532.7 558.5) scale(1 1.04)" font-size="32" font-weight="bold" text-anchor="middle">12</text>
<text transform="translate(595.3 558.5) scale(1 1.04)" font-size="32" font-weight="bold" text-anchor="middle">14</text>
<text transform="translate(657.9 558.5) scale(1 1.04)" font-size="32" font-weight="bold" text-anchor="middle">16</text>
<text transform="translate(720.5 558.5) scale(1 1.04)" font-size="32" font-weight="bold" text-anchor="middle">18</text>
<text transform="translate(783.1 558.5) scale(1 1.04)" font-size="32" font-weight="bold" text-anchor="middle">20</text>
<text transform="translate(470.5 638.1) scale(1 1.04)" font-size="40.5" font-weight="bold" text-anchor="middle" textLength="233" lengthAdjust="spacingAndGlyphs">Time (hours)</text>
<text transform="translate(29.5 305.9) rotate(-90) scale(1 1.04)" font-size="40" font-weight="bold" text-anchor="middle">OD<tspan font-size="29" dy="11.4">600</tspan></text>
<path d="M164.9 1097V1106M159.9 1097h10M159.9 1106h10M172.8 1075.7V1085.7M167.8 1075.7h10M167.8 1085.7h10M180.6 1055V1066M175.6 1055h10M175.6 1066h10M188.4 1035.7V1047.7M183.4 1035.7h10M183.4 1047.7h10M196.2 1017.9V1030.9M191.2 1017.9h10M191.2 1030.9h10M204.1 1000.1V1014.1M199.1 1000.1h10M199.1 1014.1h10M211.9 979.5V994.5M206.9 979.5h10M206.9 994.5h10M219.7 959V975M214.7 959h10M214.7 975h10M227.5 942.8V959.8M222.5 942.8h10M222.5 959.8h10M235.3 913.1V931.1M230.3 913.1h10M230.3 931.1h10M243.2 893.4V912.4M238.2 893.4h10M238.2 912.4h10M251 882.4V902.4M246 882.4h10M246 902.4h10M258.8 875.1V899.1M253.8 875.1h10M253.8 899.1h10M266.6 869.1V897.1M261.6 869.1h10M261.6 897.1h10M274.5 863.8V895.8M269.5 863.8h10M269.5 895.8h10M282.3 858V894M277.3 858h10M277.3 894h10M290.1 852.8V890.6M285.1 852.8h10M285.1 890.6h10M297.9 847.1V886.6M292.9 847.1h10M292.9 886.6h10M305.8 854V895.3M300.8 854h10M300.8 895.3h10M313.6 846.8V889.8M308.6 846.8h10M308.6 889.8h10M321.4 843V887.8M316.4 843h10M316.4 887.8h10M329.2 839.1V885.6M324.2 839.1h10M324.2 885.6h10M337.1 836.9V885.1M332.1 836.9h10M332.1 885.1h10M344.9 833.1V883.1M339.9 833.1h10M339.9 883.1h10M352.7 818.5V868.5M347.7 818.5h10M347.7 868.5h10M360.6 827.3V877.3M355.6 827.3h10M355.6 877.3h10M368.4 830.2V880.2M363.4 830.2h10M363.4 880.2h10M376.2 825.8V875.8M371.2 825.8h10M371.2 875.8h10M384 822.9V872.9M379 822.9h10M379 872.9h10M391.9 821.4V871.4M386.9 821.4h10M386.9 871.4h10M399.7 820V870M394.7 820h10M394.7 870h10M407.5 812.7V862.7M402.5 812.7h10M402.5 862.7h10M415.3 821.4V871.4M410.3 821.4h10M410.3 871.4h10M423.1 824.3V874.3M418.1 824.3h10M418.1 874.3h10M431 825.8V875.8M426 825.8h10M426 875.8h10M438.8 827.3V877.3M433.8 827.3h10M433.8 877.3h10M446.6 828.7V878.7M441.6 828.7h10M441.6 878.7h10M454.5 830.2V880.2M449.5 830.2h10M449.5 880.2h10M462.3 820V870M457.3 820h10M457.3 870h10M470.1 830.2V880.2M465.1 830.2h10M465.1 880.2h10M477.9 831.6V881.6M472.9 831.6h10M472.9 881.6h10M485.8 833.1V883.1M480.8 833.1h10M480.8 883.1h10M493.6 833.1V883.1M488.6 833.1h10M488.6 883.1h10M501.4 833.1V883.1M496.4 833.1h10M496.4 883.1h10M509.2 833.1V883.1M504.2 833.1h10M504.2 883.1h10M517 825.8V875.8M512 825.8h10M512 875.8h10M524.9 833.1V883.1M519.9 833.1h10M519.9 883.1h10M532.7 833.1V883.1M527.7 833.1h10M527.7 883.1h10M540.5 831.6V881.6M535.5 831.6h10M535.5 881.6h10M548.4 830.2V880.2M543.4 830.2h10M543.4 880.2h10M556.2 828.7V878.7M551.2 828.7h10M551.2 878.7h10M564 831.6V881.6M559 831.6h10M559 881.6h10M571.8 825.8V875.8M566.8 825.8h10M566.8 875.8h10M579.6 831.6V881.6M574.6 831.6h10M574.6 881.6h10M587.5 833.1V883.1M582.5 833.1h10M582.5 883.1h10M595.3 831.6V881.6M590.3 831.6h10M590.3 881.6h10M603.1 830.2V880.2M598.1 830.2h10M598.1 880.2h10M611 829.4V879.4M606 829.4h10M606 879.4h10M618.8 828.7V878.7M613.8 828.7h10M613.8 878.7h10M626.6 825.8V875.8M621.6 825.8h10M621.6 875.8h10M634.4 830.2V880.2M629.4 830.2h10M629.4 880.2h10M642.2 831.6V881.6M637.2 831.6h10M637.2 881.6h10M650.1 830.9V880.9M645.1 830.9h10M645.1 880.9h10M657.9 830.2V880.2M652.9 830.2h10M652.9 880.2h10M665.7 830.2V880.2M660.7 830.2h10M660.7 880.2h10M673.6 830.2V880.2M668.6 830.2h10M668.6 880.2h10M681.4 825.8V875.8M676.4 825.8h10M676.4 875.8h10M689.2 831.6V881.6M684.2 831.6h10M684.2 881.6h10M697 833.1V883.1M692 833.1h10M692 883.1h10M704.9 831.6V881.6M699.9 831.6h10M699.9 881.6h10M712.7 830.2V880.2M707.7 830.2h10M707.7 880.2h10M720.5 830.2V880.2M715.5 830.2h10M715.5 880.2h10M728.3 831.6V881.6M723.3 831.6h10M723.3 881.6h10M736.2 822.9V872.9M731.2 822.9h10M731.2 872.9h10M744 831.6V881.6M739 831.6h10M739 881.6h10M751.8 833.1V883.1M746.8 833.1h10M746.8 883.1h10M759.6 831.6V881.6M754.6 831.6h10M754.6 881.6h10M767.5 831.6V881.6M762.5 831.6h10M762.5 881.6h10M775.3 831.6V881.6M770.3 831.6h10M770.3 881.6h10M783.1 830.9V880.9M778.1 830.9h10M778.1 880.9h10" stroke="#dc4530" stroke-width="2.0" fill="none"/>
<polyline points="164.9,1101.5 172.8,1080.7 180.6,1060.5 188.4,1041.7 196.2,1024.4 204.1,1007.1 211.9,987 219.7,967 227.5,951.3 235.3,922.1 243.2,902.9 251,892.4 258.8,887.1 266.6,883.1 274.5,879.8 282.3,876 290.1,871.7 297.9,866.9 305.8,874.7 313.6,868.3 321.4,865.4 329.2,862.4 337.1,861 344.9,858.1 352.7,843.5 360.6,852.3 368.4,855.2 376.2,850.8 384,847.9 391.9,846.4 399.7,845 407.5,837.7 415.3,846.4 423.1,849.3 431,850.8 438.8,852.3 446.6,853.7 454.5,855.2 462.3,845 470.1,855.2 477.9,856.6 485.8,858.1 493.6,858.1 501.4,858.1 509.2,858.1 517,850.8 524.9,858.1 532.7,858.1 540.5,856.6 548.4,855.2 556.2,853.7 564,856.6 571.8,850.8 579.6,856.6 587.5,858.1 595.3,856.6 603.1,855.2 611,854.4 618.8,853.7 626.6,850.8 634.4,855.2 642.2,856.6 650.1,855.9 657.9,855.2 665.7,855.2 673.6,855.2 681.4,850.8 689.2,856.6 697,858.1 704.9,856.6 712.7,855.2 720.5,855.2 728.3,856.6 736.2,847.9 744,856.6 751.8,858.1 759.6,856.6 767.5,856.6 775.3,856.6 783.1,855.9" stroke="#dc4530" stroke-width="6.3" fill="none" stroke-linejoin="round"/>
<path d="M164.9 1101.5h0M172.8 1080.7h0M180.6 1060.5h0M188.4 1041.7h0M196.2 1024.4h0M204.1 1007.1h0M211.9 987h0M219.7 967h0M227.5 951.3h0M235.3 922.1h0M243.2 902.9h0M251 892.4h0M258.8 887.1h0M266.6 883.1h0M274.5 879.8h0M282.3 876h0M290.1 871.7h0M297.9 866.9h0M305.8 874.7h0M313.6 868.3h0M321.4 865.4h0M329.2 862.4h0M337.1 861h0M344.9 858.1h0M352.7 843.5h0M360.6 852.3h0M368.4 855.2h0M376.2 850.8h0M384 847.9h0M391.9 846.4h0M399.7 845h0M407.5 837.7h0M415.3 846.4h0M423.1 849.3h0M431 850.8h0M438.8 852.3h0M446.6 853.7h0M454.5 855.2h0M462.3 845h0M470.1 855.2h0M477.9 856.6h0M485.8 858.1h0M493.6 858.1h0M501.4 858.1h0M509.2 858.1h0M517 850.8h0M524.9 858.1h0M532.7 858.1h0M540.5 856.6h0M548.4 855.2h0M556.2 853.7h0M564 856.6h0M571.8 850.8h0M579.6 856.6h0M587.5 858.1h0M595.3 856.6h0M603.1 855.2h0M611 854.4h0M618.8 853.7h0M626.6 850.8h0M634.4 855.2h0M642.2 856.6h0M650.1 855.9h0M657.9 855.2h0M665.7 855.2h0M673.6 855.2h0M681.4 850.8h0M689.2 856.6h0M697 858.1h0M704.9 856.6h0M712.7 855.2h0M720.5 855.2h0M728.3 856.6h0M736.2 847.9h0M744 856.6h0M751.8 858.1h0M759.6 856.6h0M767.5 856.6h0M775.3 856.6h0M783.1 855.9h0" stroke="#dc4530" stroke-width="8.8" stroke-linecap="round" fill="none"/>
<path d="M164.9 1091.4V1099.9M159.9 1091.4h10M159.9 1099.9h10M172.8 1042.7V1051.7M167.8 1042.7h10M167.8 1051.7h10M180.6 1028.9V1038.4M175.6 1028.9h10M175.6 1038.4h10M188.4 1019.2V1029.2M183.4 1019.2h10M183.4 1029.2h10M196.2 1006.5V1017M191.2 1006.5h10M191.2 1017h10M204.1 994.4V1005.4M199.1 994.4h10M199.1 1005.4h10M211.9 982.1V993.6M206.9 982.1h10M206.9 993.6h10M219.7 969.8V981.8M214.7 969.8h10M214.7 981.8h10M227.5 967.9V980.4M222.5 967.9h10M222.5 980.4h10M235.3 969V982M230.3 969h10M230.3 982h10M243.2 943.2V956.7M238.2 943.2h10M238.2 956.7h10M251 935.2V949.2M246 935.2h10M246 949.2h10M258.8 940.6V955.1M253.8 940.6h10M253.8 955.1h10M266.6 928.4V943.4M261.6 928.4h10M261.6 943.4h10M274.5 920.7V936.2M269.5 920.7h10M269.5 936.2h10M282.3 914.9V930.9M277.3 914.9h10M277.3 930.9h10M290.1 909.3V925.4M285.1 909.3h10M285.1 925.4h10M297.9 901.1V917.3M292.9 901.1h10M292.9 917.3h10M305.8 912.9V929.2M300.8 912.9h10M300.8 929.2h10M313.6 904.3V920.6M308.6 904.3h10M308.6 920.6h10M321.4 902.3V918.7M316.4 902.3h10M316.4 918.7h10M329.2 900.8V917.2M324.2 900.8h10M324.2 917.2h10M337.1 899.3V915.9M332.1 899.3h10M332.1 915.9h10M344.9 897.8V914.4M339.9 897.8h10M339.9 914.4h10M352.7 889V905.8M347.7 889h10M347.7 905.8h10M360.6 894.8V934.8M355.6 894.8h10M355.6 934.8h10M368.4 902V919M363.4 902h10M363.4 919h10M376.2 899.1V916.1M371.2 899.1h10M371.2 916.1h10M384 897.6V914.6M379 897.6h10M379 914.6h10M391.9 897.5V914.7M386.9 897.5h10M386.9 914.7h10M399.7 896V913.2M394.7 896h10M394.7 913.2h10M407.5 888.7V906.1M402.5 888.7h10M402.5 906.1h10M415.3 900.3V917.7M410.3 900.3h10M410.3 917.7h10M423.1 902.8V926.8M418.1 902.8h10M418.1 926.8h10M431 901.7V919.3M426 901.7h10M426 919.3h10M438.8 901.7V919.3M433.8 901.7h10M433.8 919.3h10M446.6 900.1V917.9M441.6 900.1h10M441.6 917.9h10M454.5 898.7V916.5M449.5 898.7h10M449.5 916.5h10M462.3 889.8V907.8M457.3 889.8h10M457.3 907.8h10M470.1 900V918M465.1 900h10M465.1 918h10M477.9 897.4V929.4M472.9 897.4h10M472.9 929.4h10M485.8 899.9V918.1M480.8 899.9h10M480.8 918.1h10M493.6 899.8V918.2M488.6 899.8h10M488.6 918.2h10M501.4 898.4V916.9M496.4 898.4h10M496.4 916.9h10M509.2 896.8V915.4M504.2 896.8h10M504.2 915.4h10M517 889.4V908.2M512 889.4h10M512 908.2h10M524.9 889.4V937.4M519.9 889.4h10M519.9 937.4h10M532.7 898.1V917.1M527.7 898.1h10M527.7 917.1h10M540.5 896.5V915.7M535.5 896.5h10M535.5 915.7h10M548.4 895V914.2M543.4 895h10M543.4 914.2h10M556.2 894.9V914.3M551.2 894.9h10M551.2 914.3h10M564 892V911.5M559 892h10M559 911.5h10M571.8 883.2V902.8M566.8 883.2h10M566.8 902.8h10M579.6 885.6V929.6M574.6 885.6h10M574.6 929.6h10M587.5 894.7V914.5M582.5 894.7h10M582.5 914.5h10M595.3 893.2V913.2M590.3 893.2h10M590.3 913.2h10M603.1 891.7V911.7M598.1 891.7h10M598.1 911.7h10M611 890.2V910.4M606 890.2h10M606 910.4h10M618.8 885.8V906M613.8 885.8h10M613.8 906h10M626.6 878.4V898.8M621.6 878.4h10M621.6 898.8h10M634.4 883.2V923.2M629.4 883.2h10M629.4 923.2h10M642.2 897.4V917.9M637.2 897.4h10M637.2 917.9h10M650.1 890V910.6M645.1 890h10M645.1 910.6h10M657.9 888.5V909.1M652.9 888.5h10M652.9 909.1h10M665.7 888.4V909.2M660.7 888.4h10M660.7 909.2h10M673.6 887V907.8M668.6 887h10M668.6 907.8h10M681.4 876.7V897.7M676.4 876.7h10M676.4 897.7h10M689.2 888.3V909.3M684.2 888.3h10M684.2 909.3h10M697 887.2V919.2M692 887.2h10M692 919.2h10M704.9 889.7V910.9M699.9 889.7h10M699.9 910.9h10M712.7 889V910.2M707.7 889h10M707.7 910.2h10M720.5 888.1V909.5M715.5 888.1h10M715.5 909.5h10M728.3 888.1V909.5M723.3 888.1h10M723.3 909.5h10M736.2 876.5V898M731.2 876.5h10M731.2 898h10M744 880.8V916.8M739 880.8h10M739 916.8h10M751.8 893.8V915.4M746.8 893.8h10M746.8 915.4h10M759.6 889.4V911.2M754.6 889.4h10M754.6 911.2h10M767.5 888.7V910.5M762.5 888.7h10M762.5 910.5h10M775.3 888.6V910.6M770.3 888.6h10M770.3 910.6h10M783.1 887.8V909.8M778.1 887.8h10M778.1 909.8h10" stroke="#55bead" stroke-width="2.0" fill="none"/>
<polyline points="164.9,1095.6 172.8,1047.2 180.6,1033.6 188.4,1024.2 196.2,1011.7 204.1,999.9 211.9,987.9 219.7,975.8 227.5,974.2 235.3,975.5 243.2,949.9 251,942.2 258.8,947.9 266.6,935.9 274.5,928.4 282.3,922.9 290.1,917.4 297.9,909.2 305.8,921.1 313.6,912.4 321.4,910.5 329.2,909 337.1,907.6 344.9,906.1 352.7,897.4 360.6,914.8 368.4,910.5 376.2,907.6 384,906.1 391.9,906.1 399.7,904.6 407.5,897.4 415.3,909 423.1,914.8 431,910.5 438.8,910.5 446.6,909 454.5,907.6 462.3,898.8 470.1,909 477.9,913.4 485.8,909 493.6,909 501.4,907.6 509.2,906.1 517,898.8 524.9,913.4 532.7,907.6 540.5,906.1 548.4,904.6 556.2,904.6 564,901.7 571.8,893 579.6,907.6 587.5,904.6 595.3,903.2 603.1,901.7 611,900.3 618.8,895.9 626.6,888.6 634.4,903.2 642.2,907.6 650.1,900.3 657.9,898.8 665.7,898.8 673.6,897.4 681.4,887.2 689.2,898.8 697,903.2 704.9,900.3 712.7,899.6 720.5,898.8 728.3,898.8 736.2,887.2 744,898.8 751.8,904.6 759.6,900.3 767.5,899.6 775.3,899.6 783.1,898.8" stroke="#55bead" stroke-width="6.3" fill="none" stroke-linejoin="round"/>
<path d="M164.9 1095.6h0M172.8 1047.2h0M180.6 1033.6h0M188.4 1024.2h0M196.2 1011.7h0M204.1 999.9h0M211.9 987.9h0M219.7 975.8h0M227.5 974.2h0M235.3 975.5h0M243.2 949.9h0M251 942.2h0M258.8 947.9h0M266.6 935.9h0M274.5 928.4h0M282.3 922.9h0M290.1 917.4h0M297.9 909.2h0M305.8 921.1h0M313.6 912.4h0M321.4 910.5h0M329.2 909h0M337.1 907.6h0M344.9 906.1h0M352.7 897.4h0M360.6 914.8h0M368.4 910.5h0M376.2 907.6h0M384 906.1h0M391.9 906.1h0M399.7 904.6h0M407.5 897.4h0M415.3 909h0M423.1 914.8h0M431 910.5h0M438.8 910.5h0M446.6 909h0M454.5 907.6h0M462.3 898.8h0M470.1 909h0M477.9 913.4h0M485.8 909h0M493.6 909h0M501.4 907.6h0M509.2 906.1h0M517 898.8h0M524.9 913.4h0M532.7 907.6h0M540.5 906.1h0M548.4 904.6h0M556.2 904.6h0M564 901.7h0M571.8 893h0M579.6 907.6h0M587.5 904.6h0M595.3 903.2h0M603.1 901.7h0M611 900.3h0M618.8 895.9h0M626.6 888.6h0M634.4 903.2h0M642.2 907.6h0M650.1 900.3h0M657.9 898.8h0M665.7 898.8h0M673.6 897.4h0M681.4 887.2h0M689.2 898.8h0M697 903.2h0M704.9 900.3h0M712.7 899.6h0M720.5 898.8h0M728.3 898.8h0M736.2 887.2h0M744 898.8h0M751.8 904.6h0M759.6 900.3h0M767.5 899.6h0M775.3 899.6h0M783.1 898.8h0" stroke="#55bead" stroke-width="8.8" stroke-linecap="round" fill="none"/>
<path d="M164.9 1091.1V1102.6M159.9 1091.1h10M159.9 1102.6h10M172.8 1055.8V1068.8M167.8 1055.8h10M167.8 1068.8h10M180.6 1029.6V1044.1M175.6 1029.6h10M175.6 1044.1h10M188.4 1013.4V1029.3M183.4 1013.4h10M183.4 1029.3h10M196.2 1000.9V1018.4M191.2 1000.9h10M191.2 1018.4h10M204.1 984.4V1003.4M199.1 984.4h10M199.1 1003.4h10M211.9 968.2V988.7M206.9 968.2h10M206.9 988.7h10M219.7 951.7V973.7M214.7 951.7h10M214.7 973.7h10M227.5 939.7V963.2M222.5 939.7h10M222.5 963.2h10M235.3 919.9V944.9M230.3 919.9h10M230.3 944.9h10M243.2 901.4V927.9M238.2 901.4h10M238.2 927.9h10M251 887V915M246 887h10M246 915h10M258.8 872.5V904.5M253.8 872.5h10M253.8 904.5h10M266.6 862.2V898.2M261.6 862.2h10M261.6 898.2h10M274.5 853.1V893.1M269.5 853.1h10M269.5 893.1h10M282.3 845.9V889.9M277.3 845.9h10M277.3 889.9h10M290.1 837.8V885.8M285.1 837.8h10M285.1 885.8h10M297.9 830.2V882.2M292.9 830.2h10M292.9 882.2h10M305.8 834.1V890.1M300.8 834.1h10M300.8 890.1h10M313.6 828.2V888.2M308.6 828.2h10M308.6 888.2h10M321.4 825.9V887.4M316.4 825.9h10M316.4 887.4h10M329.2 823.7V886.7M324.2 823.7h10M324.2 886.7h10M337.1 821.5V886M332.1 821.5h10M332.1 886h10M344.9 819.3V885.3M339.9 819.3h10M339.9 885.3h10M352.7 812V878M347.7 812h10M347.7 878h10M360.6 822.1V888.3M355.6 822.1h10M355.6 888.3h10M368.4 826.4V892.6M363.4 826.4h10M363.4 892.6h10M376.2 830.9V897.1M371.2 830.9h10M371.2 897.1h10M384 833.7V900.1M379 833.7h10M379 900.1h10M391.9 834.4V900.8M386.9 834.4h10M386.9 900.8h10M399.7 835.9V902.4M394.7 835.9h10M394.7 902.4h10M407.5 830.7V897.3M402.5 830.7h10M402.5 897.3h10M415.3 836.5V903.1M410.3 836.5h10M410.3 903.1h10M423.1 836.4V903.2M418.1 836.4h10M418.1 903.2h10M431 835V901.8M426 835h10M426 901.8h10M438.8 833.5V900.3M433.8 833.5h10M433.8 900.3h10M446.6 830.5V897.5M441.6 830.5h10M441.6 897.5h10M454.5 834.9V901.9M449.5 834.9h10M449.5 901.9h10M462.3 826.1V893.1M457.3 826.1h10M457.3 893.1h10M470.1 833.3V900.5M465.1 833.3h10M465.1 900.5h10M477.9 828.8V896M472.9 828.8h10M472.9 896h10M485.8 828.8V896M480.8 828.8h10M480.8 896h10M493.6 828.7V896.1M488.6 828.7h10M488.6 896.1h10M501.4 828V895.4M496.4 828h10M496.4 895.4h10M509.2 827.2V894.8M504.2 827.2h10M504.2 894.8h10M517 821.4V889M512 821.4h10M512 889h10M524.9 824.3V891.9M519.9 824.3h10M519.9 891.9h10M532.7 824.2V892M527.7 824.2h10M527.7 892h10M540.5 822.7V890.5M535.5 822.7h10M535.5 890.5h10M548.4 821.3V889.1M543.4 821.3h10M543.4 889.1h10M556.2 819.7V887.7M551.2 819.7h10M551.2 887.7h10M564 818.3V886.3M559 818.3h10M559 886.3h10M571.8 811V879M566.8 811h10M566.8 879h10M579.6 818.2V886.4M574.6 818.2h10M574.6 886.4h10M587.5 819.6V887.8M582.5 819.6h10M582.5 887.8h10M595.3 816.7V884.9M590.3 816.7h10M590.3 884.9h10M603.1 815.1V883.5M598.1 815.1h10M598.1 883.5h10M611 812.2V880.6M606 812.2h10M606 880.6h10M618.8 809.2V877.8M613.8 809.2h10M613.8 877.8h10M626.6 806.3V874.9M621.6 806.3h10M621.6 874.9h10M634.4 816.5V885.1M629.4 816.5h10M629.4 885.1h10M642.2 816.4V885.2M637.2 816.4h10M637.2 885.2h10M650.1 816.4V885.2M645.1 816.4h10M645.1 885.2h10M657.9 816.4V885.2M652.9 816.4h10M652.9 885.2h10M665.7 814.8V883.8M660.7 814.8h10M660.7 883.8h10M673.6 816.3V885.3M668.6 816.3h10M668.6 885.3h10M681.4 809V878M676.4 809h10M676.4 878h10M689.2 816.2V885.4M684.2 816.2h10M684.2 885.4h10M697 816.2V885.4M692 816.2h10M692 885.4h10M704.9 814.7V883.9M699.9 814.7h10M699.9 883.9h10M712.7 814.6V884M707.7 814.6h10M707.7 884h10M720.5 813.2V882.6M715.5 813.2h10M715.5 882.6h10M728.3 811.6V881.1M723.3 811.6h10M723.3 881.1h10M736.2 801.4V871M731.2 801.4h10M731.2 871h10M744 816V885.6M739 816h10M739 885.6h10M751.8 814.4V884.2M746.8 814.4h10M746.8 884.2h10M759.6 813V882.8M754.6 813h10M754.6 882.8h10M767.5 813V882.8M762.5 813h10M762.5 882.8h10M775.3 811.4V881.4M770.3 811.4h10M770.3 881.4h10M783.1 812.9V882.9M778.1 812.9h10M778.1 882.9h10" stroke="#f2d062" stroke-width="2.0" fill="none"/>
<polyline points="164.9,1096.8 172.8,1062.3 180.6,1036.8 188.4,1021.4 196.2,1009.6 204.1,993.9 211.9,978.4 219.7,962.7 227.5,951.5 235.3,932.4 243.2,914.6 251,901 258.8,888.5 266.6,880.2 274.5,873.1 282.3,867.9 290.1,861.8 297.9,856.2 305.8,862.1 313.6,858.2 321.4,856.6 329.2,855.2 337.1,853.7 344.9,852.3 352.7,845 360.6,855.2 368.4,859.5 376.2,864 384,866.9 391.9,867.6 399.7,869.1 407.5,864 415.3,869.8 423.1,869.8 431,868.4 438.8,866.9 446.6,864 454.5,868.4 462.3,859.6 470.1,866.9 477.9,862.4 485.8,862.4 493.6,862.4 501.4,861.7 509.2,861 517,855.2 524.9,858.1 532.7,858.1 540.5,856.6 548.4,855.2 556.2,853.7 564,852.3 571.8,845 579.6,852.3 587.5,853.7 595.3,850.8 603.1,849.3 611,846.4 618.8,843.5 626.6,840.6 634.4,850.8 642.2,850.8 650.1,850.8 657.9,850.8 665.7,849.3 673.6,850.8 681.4,843.5 689.2,850.8 697,850.8 704.9,849.3 712.7,849.3 720.5,847.9 728.3,846.4 736.2,836.2 744,850.8 751.8,849.3 759.6,847.9 767.5,847.9 775.3,846.4 783.1,847.9" stroke="#f2d062" stroke-width="6.3" fill="none" stroke-linejoin="round"/>
<path d="M164.9 1096.8h0M172.8 1062.3h0M180.6 1036.8h0M188.4 1021.4h0M196.2 1009.6h0M204.1 993.9h0M211.9 978.4h0M219.7 962.7h0M227.5 951.5h0M235.3 932.4h0M243.2 914.6h0M251 901h0M258.8 888.5h0M266.6 880.2h0M274.5 873.1h0M282.3 867.9h0M290.1 861.8h0M297.9 856.2h0M305.8 862.1h0M313.6 858.2h0M321.4 856.6h0M329.2 855.2h0M337.1 853.7h0M344.9 852.3h0M352.7 845h0M360.6 855.2h0M368.4 859.5h0M376.2 864h0M384 866.9h0M391.9 867.6h0M399.7 869.1h0M407.5 864h0M415.3 869.8h0M423.1 869.8h0M431 868.4h0M438.8 866.9h0M446.6 864h0M454.5 868.4h0M462.3 859.6h0M470.1 866.9h0M477.9 862.4h0M485.8 862.4h0M493.6 862.4h0M501.4 861.7h0M509.2 861h0M517 855.2h0M524.9 858.1h0M532.7 858.1h0M540.5 856.6h0M548.4 855.2h0M556.2 853.7h0M564 852.3h0M571.8 845h0M579.6 852.3h0M587.5 853.7h0M595.3 850.8h0M603.1 849.3h0M611 846.4h0M618.8 843.5h0M626.6 840.6h0M634.4 850.8h0M642.2 850.8h0M650.1 850.8h0M657.9 850.8h0M665.7 849.3h0M673.6 850.8h0M681.4 843.5h0M689.2 850.8h0M697 850.8h0M704.9 849.3h0M712.7 849.3h0M720.5 847.9h0M728.3 846.4h0M736.2 836.2h0M744 850.8h0M751.8 849.3h0M759.6 847.9h0M767.5 847.9h0M775.3 846.4h0M783.1 847.9h0" stroke="#f2d062" stroke-width="8.8" stroke-linecap="round" fill="none"/>
<path d="M164.9 1104.8V1108.2M159.9 1104.8h10M172.8 1084.5V1088.5M167.8 1084.5h10M167.8 1088.5h10M180.6 1066V1070.1M175.6 1066h10M175.6 1070.1h10M188.4 1045.3V1049.3M183.4 1045.3h10M183.4 1049.3h10M196.2 1023.9V1027.9M191.2 1023.9h10M191.2 1027.9h10M204.1 1014.7V1018.8M199.1 1014.7h10M199.1 1018.8h10M211.9 1008.1V1012.2M206.9 1008.1h10M206.9 1012.2h10M219.7 998.9V1003M214.7 998.9h10M214.7 1003h10M227.5 984.2V988.4M222.5 984.2h10M222.5 988.4h10M235.3 962.6V966.8M230.3 962.6h10M230.3 966.8h10M243.2 921.4V925.6M238.2 921.4h10M238.2 925.6h10M251 909V913.2M246 909h10M246 913.2h10M258.8 911.4V915.6M253.8 911.4h10M253.8 915.6h10M266.6 899.9V904.1M261.6 899.9h10M261.6 904.1h10M274.5 895.1V899.3M269.5 895.1h10M269.5 899.3h10M282.3 891.5V895.7M277.3 891.5h10M277.3 895.7h10M290.1 886.7V891M285.1 886.7h10M285.1 891h10M297.9 880.4V884.7M292.9 880.4h10M292.9 884.7h10M305.8 881.8V886.1M300.8 881.8h10M300.8 886.1h10M313.6 891V895.2M308.6 891h10M308.6 895.2h10M321.4 883.5V887.9M316.4 883.5h10M316.4 887.9h10M329.2 882.1V886.5M324.2 882.1h10M324.2 886.5h10M337.1 880.6V885M332.1 880.6h10M332.1 885h10M344.9 879.2V883.6M339.9 879.2h10M339.9 883.6h10M352.7 858.8V863.2M347.7 858.8h10M347.7 863.2h10M360.6 866.1V870.5M355.6 866.1h10M355.6 870.5h10M368.4 871.9V876.3M363.4 871.9h10M363.4 876.3h10M376.2 861.7V866.1M371.2 861.7h10M371.2 866.1h10M384 855.9V860.3M379 855.9h10M379 860.3h10M391.9 853V857.4M386.9 853h10M386.9 857.4h10M399.7 847.1V851.5M394.7 847.1h10M394.7 851.5h10M407.5 834V838.4M402.5 834h10M402.5 838.4h10M415.3 836.2V874.2M410.3 836.2h10M410.3 874.2h10M423.1 842.7V847.3M418.1 842.7h10M418.1 847.3h10M431 839.8V844.4M426 839.8h10M426 844.4h10M438.8 839.8V844.4M433.8 839.8h10M433.8 844.4h10M446.6 838.3V842.9M441.6 838.3h10M441.6 842.9h10M454.5 836.9V841.5M449.5 836.9h10M449.5 841.5h10M462.3 826.7V831.3M457.3 826.7h10M457.3 831.3h10M470.1 838.3V842.9M465.1 838.3h10M465.1 842.9h10M477.9 845.6V850.2M472.9 845.6h10M472.9 850.2h10M485.8 844.1V848.7M480.8 844.1h10M480.8 848.7h10M493.6 845.6V850.2M488.6 845.6h10M488.6 850.2h10M501.4 848.5V853.1M496.4 848.5h10M496.4 853.1h10M509.2 851.4V856M504.2 851.4h10M504.2 856h10M517 848.5V853.1M512 848.5h10M512 853.1h10M524.9 858.6V863.4M519.9 858.6h10M519.9 863.4h10M532.7 865.9V870.7M527.7 865.9h10M527.7 870.7h10M540.5 864.4V869.2M535.5 864.4h10M535.5 869.2h10M548.4 865.1V869.9M543.4 865.1h10M543.4 869.9h10M556.2 864.4V869.2M551.2 864.4h10M551.2 869.2h10M564 864.4V869.2M559 864.4h10M559 869.2h10M571.8 852.8V857.6M566.8 852.8h10M566.8 857.6h10M579.6 861.5V866.3M574.6 861.5h10M574.6 866.3h10M587.5 869.1V879.1M582.5 869.1h10M582.5 879.1h10M595.3 863V867.8M590.3 863h10M590.3 867.8h10M603.1 863V867.8M598.1 863h10M598.1 867.8h10M611 861.5V866.3M606 861.5h10M606 866.3h10M618.8 855.7V860.5M613.8 855.7h10M613.8 860.5h10M626.6 848.3V853.2M621.6 848.3h10M621.6 853.2h10M634.4 855.6V860.6M629.4 855.6h10M629.4 860.6h10M642.2 862.9V867.9M637.2 862.9h10M637.2 867.9h10M650.1 854.1V859.1M645.1 854.1h10M645.1 859.1h10M657.9 852.7V857.7M652.9 852.7h10M652.9 857.7h10M665.7 848.7V858.7M660.7 848.7h10M660.7 858.7h10M673.6 849.8V854.8M668.6 849.8h10M668.6 854.8h10M681.4 832.3V837.3M676.4 832.3h10M676.4 837.3h10M689.2 833.7V838.7M684.2 833.7h10M684.2 838.7h10M697 845.4V850.4M692 845.4h10M692 850.4h10M704.9 839.6V844.6M699.9 839.6h10M699.9 844.6h10M712.7 838.1V843.1M707.7 838.1h10M707.7 843.1h10M720.5 836.7V841.7M715.5 836.7h10M715.5 841.7h10M728.3 835.2V840.2M723.3 835.2h10M723.3 840.2h10M736.2 822V827.2M731.2 822h10M731.2 827.2h10M744 835.5V851.5M739 835.5h10M739 851.5h10M751.8 836.6V841.8M746.8 836.6h10M746.8 841.8h10M759.6 833.6V838.8M754.6 833.6h10M754.6 838.8h10M767.5 831.5V836.7M762.5 831.5h10M762.5 836.7h10M775.3 830.7V835.9M770.3 830.7h10M770.3 835.9h10M783.1 829.3V834.5M778.1 829.3h10M778.1 834.5h10" stroke="#425f6e" stroke-width="2.0" fill="none"/>
<polyline points="164.9,1106.8 172.8,1086.5 180.6,1068 188.4,1047.3 196.2,1025.9 204.1,1016.8 211.9,1010.1 219.7,1001 227.5,986.3 235.3,964.7 243.2,923.5 251,911.1 258.8,913.5 266.6,902 274.5,897.2 282.3,893.6 290.1,888.9 297.9,882.6 305.8,884 313.6,893.1 321.4,885.7 329.2,884.3 337.1,882.8 344.9,881.4 352.7,861 360.6,868.3 368.4,874.1 376.2,863.9 384,858.1 391.9,855.2 399.7,849.3 407.5,836.2 415.3,855.2 423.1,845 431,842.1 438.8,842.1 446.6,840.6 454.5,839.2 462.3,829 470.1,840.6 477.9,847.9 485.8,846.4 493.6,847.9 501.4,850.8 509.2,853.7 517,850.8 524.9,861 532.7,868.3 540.5,866.8 548.4,867.5 556.2,866.8 564,866.8 571.8,855.2 579.6,863.9 587.5,874.1 595.3,865.4 603.1,865.4 611,863.9 618.8,858.1 626.6,850.8 634.4,858.1 642.2,865.4 650.1,856.6 657.9,855.2 665.7,853.7 673.6,852.3 681.4,834.8 689.2,836.2 697,847.9 704.9,842.1 712.7,840.6 720.5,839.2 728.3,837.7 736.2,824.6 744,843.5 751.8,839.2 759.6,836.2 767.5,834.1 775.3,833.3 783.1,831.9" stroke="#425f6e" stroke-width="6.3" fill="none" stroke-linejoin="round"/>
<path d="M164.9 1106.8h0M172.8 1086.5h0M180.6 1068h0M188.4 1047.3h0M196.2 1025.9h0M204.1 1016.8h0M211.9 1010.1h0M219.7 1001h0M227.5 986.3h0M235.3 964.7h0M243.2 923.5h0M251 911.1h0M258.8 913.5h0M266.6 902h0M274.5 897.2h0M282.3 893.6h0M290.1 888.9h0M297.9 882.6h0M305.8 884h0M313.6 893.1h0M321.4 885.7h0M329.2 884.3h0M337.1 882.8h0M344.9 881.4h0M352.7 861h0M360.6 868.3h0M368.4 874.1h0M376.2 863.9h0M384 858.1h0M391.9 855.2h0M399.7 849.3h0M407.5 836.2h0M415.3 855.2h0M423.1 845h0M431 842.1h0M438.8 842.1h0M446.6 840.6h0M454.5 839.2h0M462.3 829h0M470.1 840.6h0M477.9 847.9h0M485.8 846.4h0M493.6 847.9h0M501.4 850.8h0M509.2 853.7h0M517 850.8h0M524.9 861h0M532.7 868.3h0M540.5 866.8h0M548.4 867.5h0M556.2 866.8h0M564 866.8h0M571.8 855.2h0M579.6 863.9h0M587.5 874.1h0M595.3 865.4h0M603.1 865.4h0M611 863.9h0M618.8 858.1h0M626.6 850.8h0M634.4 858.1h0M642.2 865.4h0M650.1 856.6h0M657.9 855.2h0M665.7 853.7h0M673.6 852.3h0M681.4 834.8h0M689.2 836.2h0M697 847.9h0M704.9 842.1h0M712.7 840.6h0M720.5 839.2h0M728.3 837.7h0M736.2 824.6h0M744 843.5h0M751.8 839.2h0M759.6 836.2h0M767.5 834.1h0M775.3 833.3h0M783.1 831.9h0" stroke="#425f6e" stroke-width="8.8" stroke-linecap="round" fill="none"/>
<path d="M164.9 1102.9V1108.2M159.9 1102.9h10M172.8 1089.3V1097.3M167.8 1089.3h10M167.8 1097.3h10M180.6 1072.5V1081.5M175.6 1072.5h10M175.6 1081.5h10M188.4 1056.9V1066.9M183.4 1056.9h10M183.4 1066.9h10M196.2 1038.2V1048.2M191.2 1038.2h10M191.2 1048.2h10M204.1 1013.9V1023.9M199.1 1013.9h10M199.1 1023.9h10M211.9 987.9V997.9M206.9 987.9h10M206.9 997.9h10M219.7 961.8V971.8M214.7 961.8h10M214.7 971.8h10M227.5 933.8V943.8M222.5 933.8h10M222.5 943.8h10M235.3 889.6V899.6M230.3 889.6h10M230.3 899.6h10M243.2 846.7V856.7M238.2 846.7h10M238.2 856.7h10M251 836.8V846.8M246 836.8h10M246 846.8h10M258.8 818.8V828.8M253.8 818.8h10M253.8 828.8h10M266.6 812.4V822.4M261.6 812.4h10M261.6 822.4h10M274.5 807.8V817.8M269.5 807.8h10M269.5 817.8h10M282.3 812.7V822.7M277.3 812.7h10M277.3 822.7h10M290.1 798.4V810.4M285.1 798.4h10M285.1 810.4h10M297.9 792.4V806.4M292.9 792.4h10M292.9 806.4h10M305.8 797.3V813.3M300.8 797.3h10M300.8 813.3h10M313.6 792.4V810.4M308.6 792.4h10M308.6 810.4h10M321.4 788.2V808.6M316.4 788.2h10M316.4 808.6h10M329.2 781.3V803.9M324.2 781.3h10M324.2 803.9h10M337.1 775.7V800.7M332.1 775.7h10M332.1 800.7h10M344.9 770.1V797.5M339.9 770.1h10M339.9 797.5h10M352.7 758.9V788.5M347.7 758.9h10M347.7 788.5h10M360.6 764.9V796.9M355.6 764.9h10M355.6 796.9h10M368.4 767.3V800.3M363.4 767.3h10M363.4 800.3h10M376.2 763.9V797.9M371.2 763.9h10M371.2 797.9h10M384 761.3V796.3M379 761.3h10M379 796.3h10M391.9 758.6V794.6M386.9 758.6h10M386.9 794.6h10M399.7 756.6V793.6M394.7 756.6h10M394.7 793.6h10M407.5 745.9V783.9M402.5 745.9h10M402.5 783.9h10M415.3 756V794.2M410.3 756h10M410.3 794.2h10M423.1 757.4V795.9M418.1 757.4h10M418.1 795.9h10M431 755.7V794.5M426 755.7h10M426 794.5h10M438.8 754.9V793.9M433.8 754.9h10M433.8 793.9h10M446.6 751.2V790.4M441.6 751.2h10M441.6 790.4h10M454.5 754V793.5M449.5 754h10M449.5 793.5h10M462.3 745V784.8M457.3 745h10M457.3 784.8h10M470.1 755.1V795.1M465.1 755.1h10M465.1 795.1h10M477.9 759.3V799.7M472.9 759.3h10M472.9 799.7h10M485.8 762.1V802.7M480.8 762.1h10M480.8 802.7h10M493.6 766.3V807.3M488.6 766.3h10M488.6 807.3h10M501.4 769.7V811.1M496.4 769.7h10M496.4 811.1h10M509.2 773.2V814.8M504.2 773.2h10M504.2 814.8h10M517 767.2V809.2M512 767.2h10M512 809.2h10M524.9 778.7V821.1M519.9 778.7h10M519.9 821.1h10M532.7 784.4V827M527.7 784.4h10M527.7 827h10M540.5 790V833M535.5 790h10M535.5 833h10M548.4 794.2V837.6M543.4 794.2h10M543.4 837.6h10M556.2 797V840.6M551.2 797h10M551.2 840.6h10M564 796.8V840.8M559 796.8h10M559 840.8h10M571.8 787V831.6M566.8 787h10M566.8 831.6h10M579.6 797.5V842.9M574.6 797.5h10M574.6 842.9h10M587.5 800.1V846.1M582.5 800.1h10M582.5 846.1h10M595.3 799.8V846.4M590.3 799.8h10M590.3 846.4h10M603.1 799.4V846.8M598.1 799.4h10M598.1 846.8h10M611 794.8V842.8M606 794.8h10M606 842.8h10M618.8 789.4V838M613.8 789.4h10M613.8 838h10M626.6 786.1V835.5M621.6 786.1h10M621.6 835.5h10M634.4 795.2V845.2M629.4 795.2h10M629.4 845.2h10M642.2 795.7V846.3M637.2 795.7h10M637.2 846.3h10M650.1 794.5V845.9M645.1 794.5h10M645.1 845.9h10M657.9 792.8V844.8M652.9 792.8h10M652.9 844.8h10M665.7 791V843.5M660.7 791h10M660.7 843.5h10M673.6 790.1V843.1M668.6 790.1h10M668.6 843.1h10M681.4 779.6V833.1M676.4 779.6h10M676.4 833.1h10M689.2 788.9V842.9M684.2 788.9h10M684.2 842.9h10M697 787.1V841.6M692 787.1h10M692 841.6h10M704.9 784.7V839.7M699.9 784.7h10M699.9 839.7h10M712.7 782.2V837.8M707.7 782.2h10M707.7 837.8h10M720.5 779.9V835.9M715.5 779.9h10M715.5 835.9h10M728.3 783.2V839.8M723.3 783.2h10M723.3 839.8h10M736.2 769.2V826.2M731.2 769.2h10M731.2 826.2h10M744 782V839.5M739 782h10M739 839.5h10M751.8 780.3V838.3M746.8 780.3h10M746.8 838.3h10M759.6 779.4V837.9M754.6 779.4h10M754.6 837.9h10M767.5 778.4V837.4M762.5 778.4h10M762.5 837.4h10M775.3 778.1V837.6M770.3 778.1h10M770.3 837.6h10M783.1 774.2V834.2M778.1 774.2h10M778.1 834.2h10" stroke="#000000" stroke-width="2.0" fill="none"/>
<polyline points="164.9,1106.4 172.8,1093.3 180.6,1077 188.4,1061.9 196.2,1043.2 204.1,1018.9 211.9,992.9 219.7,966.8 227.5,938.8 235.3,894.6 243.2,851.7 251,841.8 258.8,823.8 266.6,817.4 274.5,812.8 282.3,817.7 290.1,804.4 297.9,799.4 305.8,805.3 313.6,801.4 321.4,798.4 329.2,792.6 337.1,788.2 344.9,783.8 352.7,773.7 360.6,780.9 368.4,783.8 376.2,780.9 384,778.8 391.9,776.6 399.7,775.1 407.5,764.9 415.3,775.1 423.1,776.6 431,775.1 438.8,774.4 446.6,770.8 454.5,773.7 462.3,764.9 470.1,775.1 477.9,779.5 485.8,782.4 493.6,786.8 501.4,790.4 509.2,794 517,788.2 524.9,799.9 532.7,805.7 540.5,811.5 548.4,815.9 556.2,818.8 564,818.8 571.8,809.3 579.6,820.2 587.5,823.1 595.3,823.1 603.1,823.1 611,818.8 618.8,813.7 626.6,810.8 634.4,820.2 642.2,821 650.1,820.2 657.9,818.8 665.7,817.3 673.6,816.6 681.4,806.4 689.2,815.9 697,814.4 704.9,812.2 712.7,810 720.5,807.9 728.3,811.5 736.2,797.7 744,810.8 751.8,809.3 759.6,808.6 767.5,807.9 775.3,807.9 783.1,804.2" stroke="#000000" stroke-width="6.3" fill="none" stroke-linejoin="round"/>
<path d="M164.9 1106.4h0M172.8 1093.3h0M180.6 1077h0M188.4 1061.9h0M196.2 1043.2h0M204.1 1018.9h0M211.9 992.9h0M219.7 966.8h0M227.5 938.8h0M235.3 894.6h0M243.2 851.7h0M251 841.8h0M258.8 823.8h0M266.6 817.4h0M274.5 812.8h0M282.3 817.7h0M290.1 804.4h0M297.9 799.4h0M305.8 805.3h0M313.6 801.4h0M321.4 798.4h0M329.2 792.6h0M337.1 788.2h0M344.9 783.8h0M352.7 773.7h0M360.6 780.9h0M368.4 783.8h0M376.2 780.9h0M384 778.8h0M391.9 776.6h0M399.7 775.1h0M407.5 764.9h0M415.3 775.1h0M423.1 776.6h0M431 775.1h0M438.8 774.4h0M446.6 770.8h0M454.5 773.7h0M462.3 764.9h0M470.1 775.1h0M477.9 779.5h0M485.8 782.4h0M493.6 786.8h0M501.4 790.4h0M509.2 794h0M517 788.2h0M524.9 799.9h0M532.7 805.7h0M540.5 811.5h0M548.4 815.9h0M556.2 818.8h0M564 818.8h0M571.8 809.3h0M579.6 820.2h0M587.5 823.1h0M595.3 823.1h0M603.1 823.1h0M611 818.8h0M618.8 813.7h0M626.6 810.8h0M634.4 820.2h0M642.2 821h0M650.1 820.2h0M657.9 818.8h0M665.7 817.3h0M673.6 816.6h0M681.4 806.4h0M689.2 815.9h0M697 814.4h0M704.9 812.2h0M712.7 810h0M720.5 807.9h0M728.3 811.5h0M736.2 797.7h0M744 810.8h0M751.8 809.3h0M759.6 808.6h0M767.5 807.9h0M775.3 807.9h0M783.1 804.2h0" stroke="#000000" stroke-width="8.8" stroke-linecap="round" fill="none"/>
<path d="M157.2 687.6 V1119.4 M146 1108.2 H786.1" stroke="#000" stroke-width="6.2" fill="none"/>
<path d="M146 1108.2H157M146 1048.6H157M146 989H157M146 929.4H157M146 869.8H157M146 810.2H157M146 750.6H157M146 691H157M219.7 1108.2V1119.4M282.3 1108.2V1119.4M344.9 1108.2V1119.4M407.5 1108.2V1119.4M470.1 1108.2V1119.4M532.7 1108.2V1119.4M595.3 1108.2V1119.4M657.9 1108.2V1119.4M720.5 1108.2V1119.4M783.1 1108.2V1119.4" stroke="#000" stroke-width="6.2" fill="none"/>
<text transform="translate(140.5 1119.2) scale(1 1.04)" font-size="32" font-weight="bold" text-anchor="end">0.00</text>
<text transform="translate(140.5 1059.6) scale(1 1.04)" font-size="32" font-weight="bold" text-anchor="end">0.05</text>
<text transform="translate(140.5 1000) scale(1 1.04)" font-size="32" font-weight="bold" text-anchor="end">0.10</text>
<text transform="translate(140.5 940.4) scale(1 1.04)" font-size="32" font-weight="bold" text-anchor="end">0.15</text>
<text transform="translate(140.5 880.8) scale(1 1.04)" font-size="32" font-weight="bold" text-anchor="end">0.20</text>
<text transform="translate(140.5 821.2) scale(1 1.04)" font-size="32" font-weight="bold" text-anchor="end">0.25</text>
<text transform="translate(140.5 761.6) scale(1 1.04)" font-size="32" font-weight="bold" text-anchor="end">0.30</text>
<text transform="translate(140.5 702) scale(1 1.04)" font-size="32" font-weight="bold" text-anchor="end">0.35</text>
<text transform="translate(157.1 1153.2) scale(1 1.04)" font-size="32" font-weight="bold" text-anchor="middle">0</text>
<text transform="translate(219.7 1153.2) scale(1 1.04)" font-size="32" font-weight="bold" text-anchor="middle">2</text>
<text transform="translate(282.3 1153.2) scale(1 1.04)" font-size="32" font-weight="bold" text-anchor="middle">4</text>
<text transform="translate(344.9 1153.2) scale(1 1.04)" font-size="32" font-weight="bold" text-anchor="middle">6</text>
<text transform="translate(407.5 1153.2) scale(1 1.04)" font-size="32" font-weight="bold" text-anchor="middle">8</text>
<text transform="translate(470.1 1153.2) scale(1 1.04)" font-size="32" font-weight="bold" text-anchor="middle">10</text>
<text transform="translate(532.7 1153.2) scale(1 1.04)" font-size="32" font-weight="bold" text-anchor="middle">12</text>
<text transform="translate(595.3 1153.2) scale(1 1.04)" font-size="32" font-weight="bold" text-anchor="middle">14</text>
<text transform="translate(657.9 1153.2) scale(1 1.04)" font-size="32" font-weight="bold" text-anchor="middle">16</text>
<text transform="translate(720.5 1153.2) scale(1 1.04)" font-size="32" font-weight="bold" text-anchor="middle">18</text>
<text transform="translate(783.1 1153.2) scale(1 1.04)" font-size="32" font-weight="bold" text-anchor="middle">20</text>
<text transform="translate(470.5 1230.6) scale(1 1.04)" font-size="40.5" font-weight="bold" text-anchor="middle" textLength="233" lengthAdjust="spacingAndGlyphs">Time (hours)</text>
<text transform="translate(29.5 900.4) rotate(-90) scale(1 1.04)" font-size="40" font-weight="bold" text-anchor="middle">OD<tspan font-size="29" dy="11.4">600</tspan></text>
<path d="M195.4 1364.4V1359 M185 1359H205.7" stroke="#000" stroke-width="2.4" fill="none"/>
<rect x="173.1" y="1362.4" width="44.6" height="372.9" fill="#000"/>
<path d="M253.3 1426.7V1424.3 M244.5 1424.3H261.8" stroke="#000" stroke-width="4.2" stroke-linecap="round" fill="none"/>
<rect x="234.4" y="1427.8" width="37.8" height="307.5" fill="#425f6e" stroke="#000" stroke-width="6.2"/>
<path d="M310.6 1454.1V1449.2 M301.8 1449.2H319.2" stroke="#000" stroke-width="4.2" stroke-linecap="round" fill="none"/>
<rect x="291.6" y="1455.2" width="38" height="280.1" fill="#f2d062" stroke="#000" stroke-width="6.2"/>
<path d="M368.1 1468.2V1461.6 M359.2 1461.6H377" stroke="#000" stroke-width="4.2" stroke-linecap="round" fill="none"/>
<rect x="349.4" y="1469.3" width="37.5" height="266" fill="#55bead" stroke="#000" stroke-width="6.2"/>
<path d="M425.7 1376.7V1370.5 M416.6 1370.5H434.6" stroke="#000" stroke-width="4.2" stroke-linecap="round" fill="none"/>
<rect x="406.9" y="1377.8" width="37.6" height="357.5" fill="#e8725c" stroke="#000" stroke-width="6.2"/>
<path d="M521.2 1407.5V1403 M510.9 1403H531.5" stroke="#000" stroke-width="2.4" fill="none"/>
<rect x="499.1" y="1405.5" width="44.2" height="329.8" fill="#000"/>
<path d="M578.9 1468V1465.5 M570.2 1465.5H587.8" stroke="#000" stroke-width="4.2" stroke-linecap="round" fill="none"/>
<rect x="559.9" y="1469.1" width="38" height="266.2" fill="#425f6e" stroke="#000" stroke-width="6.2"/>
<path d="M636.3 1464.4V1457.4 M627.4 1457.4H645.2" stroke="#000" stroke-width="4.2" stroke-linecap="round" fill="none"/>
<rect x="617.4" y="1465.5" width="37.8" height="269.8" fill="#f2d062" stroke="#000" stroke-width="6.2"/>
<path d="M693.9 1516.8V1513.2 M685 1513.2H702.5" stroke="#000" stroke-width="4.2" stroke-linecap="round" fill="none"/>
<rect x="675" y="1517.9" width="37.8" height="217.4" fill="#55bead" stroke="#000" stroke-width="6.2"/>
<path d="M751.3 1464.4V1458.8 M742.3 1458.8H760.3" stroke="#000" stroke-width="4.2" stroke-linecap="round" fill="none"/>
<rect x="732.3" y="1465.5" width="38" height="269.8" fill="#e8725c" stroke="#000" stroke-width="6.2"/>
<path d="M157.2 1310.2 V1738.5 M146 1735.3 H790.3" stroke="#000" stroke-width="6.4" fill="none"/>
<path d="M146 1735.3H157M146 1665H157M146 1594.7H157M146 1524.4H157M146 1454.1H157M146 1383.8H157M146 1313.5H157M310 1735.3V1746.5 M635.5 1735.3V1746.5" stroke="#000" stroke-width="6.2" fill="none"/>
<text transform="translate(140.3 1746.8) scale(1 1.04)" font-size="32" font-weight="bold" text-anchor="end">0</text>
<text transform="translate(140.3 1676.5) scale(1 1.04)" font-size="32" font-weight="bold" text-anchor="end">1</text>
<text transform="translate(140.3 1606.2) scale(1 1.04)" font-size="32" font-weight="bold" text-anchor="end">2</text>
<text transform="translate(140.3 1535.9) scale(1 1.04)" font-size="32" font-weight="bold" text-anchor="end">3</text>
<text transform="translate(140.3 1465.6) scale(1 1.04)" font-size="32" font-weight="bold" text-anchor="end">4</text>
<text transform="translate(140.3 1395.3) scale(1 1.04)" font-size="32" font-weight="bold" text-anchor="end">5</text>
<text transform="translate(140.3 1325) scale(1 1.04)" font-size="32" font-weight="bold" text-anchor="end">6</text>
<text transform="translate(306.4 1780.6) scale(1 1.04)" font-size="32" font-weight="bold" text-anchor="middle" textLength="98.5" lengthAdjust="spacingAndGlyphs">CD186</text>
<text transform="translate(636 1780.6) scale(1 1.04)" font-size="32" font-weight="bold" text-anchor="middle" textLength="98" lengthAdjust="spacingAndGlyphs">CD973</text>
<text transform="translate(80.4 1525.3) rotate(-90) scale(1 1.04)" font-size="35" font-weight="bold" text-anchor="middle" textLength="335" lengthAdjust="spacingAndGlyphs">Area under the curve</text>
<path d="M306.6 1425.2H373.7" stroke="#000" stroke-width="6.4" stroke-linecap="round"/>
<text x="338.5" y="1424.8" font-size="40" font-weight="bold" text-anchor="middle" letter-spacing="1.7">*</text>
<path d="M359.2 1339.9H425.7" stroke="#000" stroke-width="6.4" stroke-linecap="round"/>
<text x="394.7" y="1338.1" font-size="40" font-weight="bold" text-anchor="middle" letter-spacing="1.7">****</text>
<path d="M635.6 1433H702" stroke="#000" stroke-width="6.4" stroke-linecap="round"/>
<text x="670.2" y="1433.2" font-size="40" font-weight="bold" text-anchor="middle" letter-spacing="1.7">***</text>
<path d="M690.9 1383.8H756.6" stroke="#000" stroke-width="6.4" stroke-linecap="round"/>
<text x="725.9" y="1382.2" font-size="40" font-weight="bold" text-anchor="middle" letter-spacing="1.7">***</text>
<path d="M1100.2 323.4L1107.4 331L1100.2 338.6L1093 331ZM1100.2 321.2L1107.4 328.9L1100.2 336.5L1093 328.9ZM1100.2 399L1107.4 406.6L1100.2 414.2L1093 406.6Z" fill="#000"/>
<path d="M1100.2 329.7V381" stroke="#000" stroke-width="4" fill="none"/>
<path d="M1089.6 329.7H1110.8 M1089.6 381H1110.8" stroke="#000" stroke-width="4" stroke-linecap="round" fill="none"/>
<path d="M1078.2 355.4H1122.2" stroke="#000" stroke-width="4" fill="none"/>
<path d="M1166.1 381.6L1173.8 396.4L1158.3 396.4ZM1166.1 391.6L1173.8 406.4L1158.3 406.4ZM1166.1 429.9L1173.8 444.7L1158.3 444.7Z" fill="#000"/>
<path d="M1166.1 393.4V422.9" stroke="#000" stroke-width="4" fill="none"/>
<path d="M1155.5 393.4H1176.7 M1155.5 422.9H1176.7" stroke="#000" stroke-width="4" stroke-linecap="round" fill="none"/>
<path d="M1144.1 408H1188.1" stroke="#000" stroke-width="4" fill="none"/>
<path d="M1223.8 465.4h15.3v15.3h-15.3ZM1223.8 466.9h15.3v15.3h-15.3ZM1223.8 466.4h15.3v15.3h-15.3Z" fill="#000"/>
<path d="M1231.5 472V476" stroke="#000" stroke-width="4" fill="none"/>
<path d="M1220.9 472H1242.1 M1220.9 476H1242.1" stroke="#000" stroke-width="4" stroke-linecap="round" fill="none"/>
<path d="M1209.5 474H1253.5" stroke="#000" stroke-width="4" fill="none"/>
<path d="M1289.6 443.5a7.8 7.8 0 1 0 15.6 0a7.8 7.8 0 1 0 -15.6 0ZM1289.6 466.5a7.8 7.8 0 1 0 15.6 0a7.8 7.8 0 1 0 -15.6 0ZM1289.6 468.1a7.8 7.8 0 1 0 15.6 0a7.8 7.8 0 1 0 -15.6 0Z" fill="#000"/>
<path d="M1297.4 451.1V466.7" stroke="#000" stroke-width="4" fill="none"/>
<path d="M1286.8 451.1H1308 M1286.8 466.7H1308" stroke="#000" stroke-width="4" stroke-linecap="round" fill="none"/>
<path d="M1275.4 459H1319.4" stroke="#000" stroke-width="4" fill="none"/>
<path d="M1406.6 104.8L1413.8 112.5L1406.6 120.2L1399.4 112.5ZM1406.6 199.2L1413.8 206.9L1406.6 214.6L1399.4 206.9ZM1406.6 329.5L1413.8 337.1L1406.6 344.8L1399.4 337.1Z" fill="#000"/>
<path d="M1406.6 153.6V284" stroke="#000" stroke-width="4" fill="none"/>
<path d="M1396 153.6H1417.2 M1396 284H1417.2" stroke="#000" stroke-width="4" stroke-linecap="round" fill="none"/>
<path d="M1384.6 218.7H1428.6" stroke="#000" stroke-width="4" fill="none"/>
<path d="M1472.1 257.5L1479.8 272.3L1464.3 272.3ZM1472.1 290L1479.8 304.8L1464.3 304.8ZM1472.1 347.5L1479.8 362.3L1464.3 362.3Z" fill="#000"/>
<path d="M1472.1 278.1V330.7" stroke="#000" stroke-width="4" fill="none"/>
<path d="M1461.5 278.1H1482.7 M1461.5 330.7H1482.7" stroke="#000" stroke-width="4" stroke-linecap="round" fill="none"/>
<path d="M1450.1 304.5H1494.1" stroke="#000" stroke-width="4" fill="none"/>
<path d="M1530.2 447.4h15.3v15.3h-15.3ZM1530.2 452.4h15.3v15.3h-15.3ZM1530.2 455.4h15.3v15.3h-15.3Z" fill="#000"/>
<path d="M1537.9 456.5V461.5" stroke="#000" stroke-width="4" fill="none"/>
<path d="M1527.3 456.5H1548.5 M1527.3 461.5H1548.5" stroke="#000" stroke-width="4" stroke-linecap="round" fill="none"/>
<path d="M1515.9 459H1559.9" stroke="#000" stroke-width="4" fill="none"/>
<path d="M1595.7 108.3a7.8 7.8 0 1 0 15.6 0a7.8 7.8 0 1 0 -15.6 0ZM1595.7 347a7.8 7.8 0 1 0 15.6 0a7.8 7.8 0 1 0 -15.6 0ZM1595.7 412.5a7.8 7.8 0 1 0 15.6 0a7.8 7.8 0 1 0 -15.6 0Z" fill="#000"/>
<path d="M1603.5 196.3V381.9" stroke="#000" stroke-width="4" fill="none"/>
<path d="M1592.9 196.3H1614.1 M1592.9 381.9H1614.1" stroke="#000" stroke-width="4" stroke-linecap="round" fill="none"/>
<path d="M1581.5 288.7H1625.5" stroke="#000" stroke-width="4" fill="none"/>
<path d="M1056.4 81V482.4 M1046.2 479.5H1649" stroke="#000" stroke-width="5.8" fill="none"/>
<path d="M1046.2 479.5H1056.4M1046.2 380.6H1056.4M1046.2 281.7H1056.4M1046.2 182.8H1056.4M1046.2 83.9H1056.4M1198.9 479.5V489.8M1504.9 479.5V489.8" stroke="#000" stroke-width="5.8" fill="none"/>
<text transform="translate(1041.2 490.1) scale(1 1.04)" font-size="30" font-weight="bold" text-anchor="end">0</text>
<text transform="translate(1041.2 391.2) scale(1 1.04)" font-size="30" font-weight="bold" text-anchor="end">5</text>
<text transform="translate(1041.2 292.3) scale(1 1.04)" font-size="30" font-weight="bold" text-anchor="end">10</text>
<text transform="translate(1041.2 193.4) scale(1 1.04)" font-size="30" font-weight="bold" text-anchor="end">15</text>
<text transform="translate(1041.2 94.5) scale(1 1.04)" font-size="30" font-weight="bold" text-anchor="end">20</text>
<text transform="translate(1206.9 512.7) rotate(-45) scale(1 1.04)" font-size="30" font-weight="bold" text-anchor="end">24 h</text>
<text transform="translate(1512.9 512.7) rotate(-45) scale(1 1.04)" font-size="30" font-weight="bold" text-anchor="end">48 h</text>
<text transform="translate(937.9 281.5) rotate(-90) scale(1 1.04)" font-size="33.2" font-weight="bold" text-anchor="middle" textLength="274" lengthAdjust="spacingAndGlyphs">CD186 sporulation</text>
<text transform="translate(976.6 281.5) rotate(-90) scale(1 1.04)" font-size="33.2" font-weight="bold" text-anchor="middle" textLength="201" lengthAdjust="spacingAndGlyphs">efficiency (%)</text>
<path d="M1163.9 355H1229.2" stroke="#000" stroke-width="5.7" stroke-linecap="round"/>
<text x="1201.3" y="353.2" font-size="40" font-weight="bold" text-anchor="middle" letter-spacing="2.6">**</text>
<path d="M1099.3 1026.3L1106.5 1034L1099.3 1041.7L1092.1 1034ZM1099.3 1063.3L1106.5 1071L1099.3 1078.7L1092.1 1071ZM1099.3 1065.1L1106.5 1072.8L1099.3 1080.5L1092.1 1072.8Z" fill="#000"/>
<path d="M1099.3 1047V1072.8" stroke="#000" stroke-width="4" fill="none"/>
<path d="M1088.7 1047H1109.9 M1088.7 1072.8H1109.9" stroke="#000" stroke-width="4" stroke-linecap="round" fill="none"/>
<path d="M1077.3 1059.2H1121.3" stroke="#000" stroke-width="4" fill="none"/>
<path d="M1162.9 1043.6L1170.7 1058.4L1155.2 1058.4ZM1162.9 1061.6L1170.7 1076.4L1155.2 1076.4ZM1162.9 1082.6L1170.7 1097.4L1155.2 1097.4Z" fill="#000"/>
<path d="M1162.9 1058.6V1081.1" stroke="#000" stroke-width="4" fill="none"/>
<path d="M1152.3 1058.6H1173.5 M1152.3 1081.1H1173.5" stroke="#000" stroke-width="4" stroke-linecap="round" fill="none"/>
<path d="M1140.9 1069.9H1184.9" stroke="#000" stroke-width="4" fill="none"/>
<path d="M1218.8 1090.8h15.3v15.3h-15.3ZM1218.8 1095.8h15.3v15.3h-15.3ZM1218.8 1097.3h15.3v15.3h-15.3Z" fill="#000"/>
<path d="M1226.4 1098.8V1103.8" stroke="#000" stroke-width="4" fill="none"/>
<path d="M1215.8 1098.8H1237 M1215.8 1103.8H1237" stroke="#000" stroke-width="4" stroke-linecap="round" fill="none"/>
<path d="M1204.4 1101.3H1248.4" stroke="#000" stroke-width="4" fill="none"/>
<path d="M1281.6 1073.5a7.8 7.8 0 1 0 15.6 0a7.8 7.8 0 1 0 -15.6 0ZM1281.6 1083a7.8 7.8 0 1 0 15.6 0a7.8 7.8 0 1 0 -15.6 0ZM1281.6 1092a7.8 7.8 0 1 0 15.6 0a7.8 7.8 0 1 0 -15.6 0Z" fill="#000"/>
<path d="M1289.4 1077.6V1088.9" stroke="#000" stroke-width="4" fill="none"/>
<path d="M1278.8 1077.6H1300 M1278.8 1088.9H1300" stroke="#000" stroke-width="4" stroke-linecap="round" fill="none"/>
<path d="M1267.4 1083.1H1311.4" stroke="#000" stroke-width="4" fill="none"/>
<path d="M1395.5 830.4L1402.7 838L1395.5 845.6L1388.3 838ZM1395.5 842.1L1402.7 849.8L1395.5 857.4L1388.3 849.8ZM1395.5 882.1L1402.7 889.8L1395.5 897.4L1388.3 889.8Z" fill="#000"/>
<path d="M1395.5 843.8V875.1" stroke="#000" stroke-width="4" fill="none"/>
<path d="M1384.9 843.8H1406.1 M1384.9 875.1H1406.1" stroke="#000" stroke-width="4" stroke-linecap="round" fill="none"/>
<path d="M1373.5 859.7H1417.5" stroke="#000" stroke-width="4" fill="none"/>
<path d="M1458.7 760.8L1466.5 775.6L1451 775.6ZM1458.7 873.1L1466.5 887.9L1451 887.9ZM1458.7 879.6L1466.5 894.4L1451 894.4Z" fill="#000"/>
<path d="M1458.7 805.9V881.7" stroke="#000" stroke-width="4" fill="none"/>
<path d="M1448.1 805.9H1469.3 M1448.1 881.7H1469.3" stroke="#000" stroke-width="4" stroke-linecap="round" fill="none"/>
<path d="M1436.7 844.3H1480.7" stroke="#000" stroke-width="4" fill="none"/>
<path d="M1514.8 1009h15.3v15.3h-15.3ZM1514.8 1052.3h15.3v15.3h-15.3ZM1514.8 1059.3h15.3v15.3h-15.3Z" fill="#000"/>
<path d="M1522.4 1032V1064.9" stroke="#000" stroke-width="4" fill="none"/>
<path d="M1511.8 1032H1533 M1511.8 1064.9H1533" stroke="#000" stroke-width="4" stroke-linecap="round" fill="none"/>
<path d="M1500.4 1048.2H1544.4" stroke="#000" stroke-width="4" fill="none"/>
<path d="M1577.7 1063a7.8 7.8 0 1 0 15.6 0a7.8 7.8 0 1 0 -15.6 0ZM1577.7 1076a7.8 7.8 0 1 0 15.6 0a7.8 7.8 0 1 0 -15.6 0ZM1577.7 1087a7.8 7.8 0 1 0 15.6 0a7.8 7.8 0 1 0 -15.6 0Z" fill="#000"/>
<path d="M1585.5 1068.7V1083.1" stroke="#000" stroke-width="4" fill="none"/>
<path d="M1574.9 1068.7H1596.1 M1574.9 1083.1H1596.1" stroke="#000" stroke-width="4" stroke-linecap="round" fill="none"/>
<path d="M1563.5 1076H1607.5" stroke="#000" stroke-width="4" fill="none"/>
<path d="M1057.1 725.3V1112.1 M1046.2 1109.2H1628.5" stroke="#000" stroke-width="5.8" fill="none"/>
<path d="M1046.2 1109.2H1057.1M1046.2 1033H1057.1M1046.2 956.8H1057.1M1046.2 880.6H1057.1M1046.2 804.4H1057.1M1046.2 728.2H1057.1M1194.4 1109.2V1119.5M1489.8 1109.2V1119.5" stroke="#000" stroke-width="5.8" fill="none"/>
<text transform="translate(1041.2 1119.8) scale(1 1.04)" font-size="30" font-weight="bold" text-anchor="end">0</text>
<text transform="translate(1041.2 1043.6) scale(1 1.04)" font-size="30" font-weight="bold" text-anchor="end">10</text>
<text transform="translate(1041.2 967.4) scale(1 1.04)" font-size="30" font-weight="bold" text-anchor="end">20</text>
<text transform="translate(1041.2 891.2) scale(1 1.04)" font-size="30" font-weight="bold" text-anchor="end">30</text>
<text transform="translate(1041.2 815) scale(1 1.04)" font-size="30" font-weight="bold" text-anchor="end">40</text>
<text transform="translate(1041.2 738.8) scale(1 1.04)" font-size="30" font-weight="bold" text-anchor="end">50</text>
<text transform="translate(1202.4 1142.4) rotate(-45) scale(1 1.04)" font-size="30" font-weight="bold" text-anchor="end">24 h</text>
<text transform="translate(1497.8 1142.4) rotate(-45) scale(1 1.04)" font-size="30" font-weight="bold" text-anchor="end">48 h</text>
<text transform="translate(928.7 919.2) rotate(-90) scale(1 1.04)" font-size="33.2" font-weight="bold" text-anchor="middle" textLength="274" lengthAdjust="spacingAndGlyphs">CD973 sporulation</text>
<text transform="translate(967.4 919.2) rotate(-90) scale(1 1.04)" font-size="33.2" font-weight="bold" text-anchor="middle" textLength="201" lengthAdjust="spacingAndGlyphs">efficiency (%)</text>
<path d="M1163.4 1010.9H1228" stroke="#000" stroke-width="5.7" stroke-linecap="round"/>
<text x="1197.7" y="1011.4" font-size="40" font-weight="bold" text-anchor="middle" letter-spacing="2.6">*</text>
<path d="M1458 719H1523" stroke="#000" stroke-width="5.7" stroke-linecap="round"/>
<text x="1492.4" y="719.9" font-size="40" font-weight="bold" text-anchor="middle" letter-spacing="2.6">**</text>
<rect x="1122.1" y="1365.3" width="71.5" height="34.1" fill="#000"/>
<text transform="translate(1223.3 1400.6) scale(1 1.04)" font-size="44" textLength="214.5" lengthAdjust="spacingAndGlyphs">BHI control</text>
<rect x="1126.6" y="1430.7" width="62.5" height="25.1" fill="#425f6e" stroke="#000" stroke-width="9"/>
<path d="M1092.9 1430.8L1102.2 1439.8L1092.9 1448.8L1083.6 1439.8Z" fill="#000"/>
<text transform="translate(1223.3 1459.5) scale(1 1.04)" font-size="44">Control</text>
<rect x="1126.6" y="1495.4" width="62.5" height="25.1" fill="#f2d062" stroke="#000" stroke-width="9"/>
<path d="M1092.9 1496.4L1102.2 1514.2L1083.6 1514.2Z" fill="#000"/>
<text transform="translate(1223.3 1524.2) scale(1 1.04)" font-size="44" textLength="125.5" lengthAdjust="spacingAndGlyphs">MET-1</text>
<rect x="1126.6" y="1559.8" width="62.5" height="25.1" fill="#55bead" stroke="#000" stroke-width="9"/>
<path d="M1083.6 1561h18.3v18.3h-18.3Z" fill="#000"/>
<text transform="translate(1223.3 1588.8) scale(1 1.04)" font-size="44">DEC58</text>
<rect x="1126.6" y="1624.5" width="62.5" height="25.1" fill="#e8725c" stroke="#000" stroke-width="9"/>
<circle cx="1092.75" cy="1635.5" r="9.3" fill="#000"/>
<text transform="translate(1223.3 1653.6) scale(1 1.04)" font-size="44">DEC58+cipro</text>
</svg></body></html>
